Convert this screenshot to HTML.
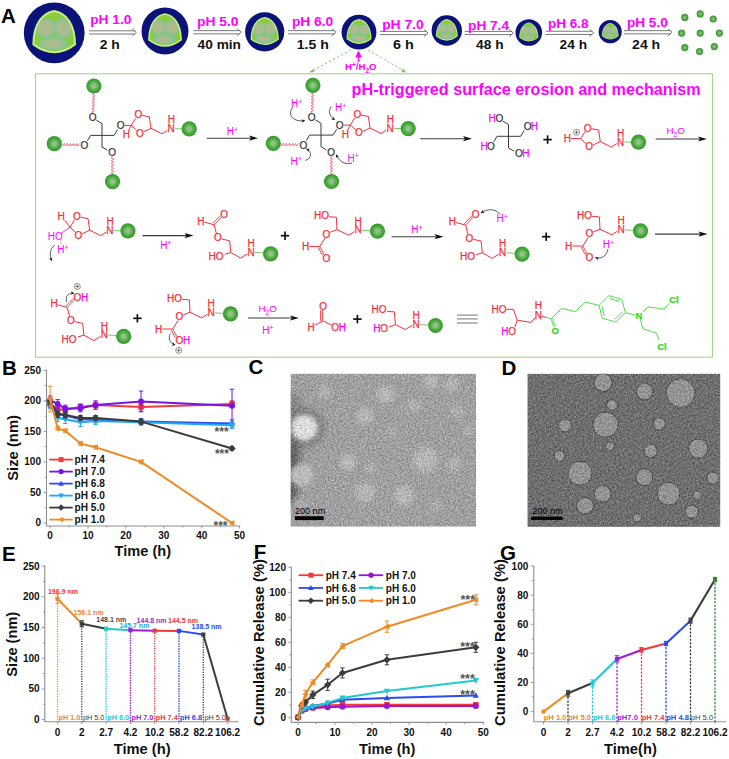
<!DOCTYPE html><html><head><meta charset="utf-8"><style>html,body{margin:0;padding:0;background:#fff;}svg{display:block;}text{font-family:"Liberation Sans", sans-serif;}</style></head><body>
<svg width="729" height="759" viewBox="0 0 729 759" font-family="Liberation Sans, sans-serif">
<defs>
<filter id="blur4" x="-50%" y="-50%" width="200%" height="200%"><feGaussianBlur stdDeviation="4"/></filter>
<filter id="blur2" x="-50%" y="-50%" width="200%" height="200%"><feGaussianBlur stdDeviation="2.2"/></filter>
<filter id="pblur" x="-50%" y="-50%" width="200%" height="200%"><feGaussianBlur stdDeviation="0.028"/></filter>
<filter id="blur05" x="-20%" y="-20%" width="140%" height="140%"><feGaussianBlur stdDeviation="0.45"/></filter>
<filter id="temC" color-interpolation-filters="sRGB" filterUnits="userSpaceOnUse" x="290" y="373" width="187" height="154">
 <feTurbulence type="fractalNoise" baseFrequency="0.6" numOctaves="3" seed="4" result="t"/>
 <feGaussianBlur in="t" stdDeviation="0.6" result="b"/>
 <feColorMatrix in="b" type="matrix" values="1 0 0 0 0  1 0 0 0 0  1 0 0 0 0  0 0 0 0 1" result="g"/>
 <feComposite in="SourceGraphic" in2="g" operator="arithmetic" k1="0" k2="1" k3="0.45" k4="-0.22"/>
</filter>
<filter id="temD" color-interpolation-filters="sRGB" filterUnits="userSpaceOnUse" x="527" y="373" width="194" height="154">
 <feTurbulence type="fractalNoise" baseFrequency="0.6" numOctaves="3" seed="9" result="t"/>
 <feGaussianBlur in="t" stdDeviation="0.6" result="b"/>
 <feColorMatrix in="b" type="matrix" values="1 0 0 0 0  1 0 0 0 0  1 0 0 0 0  0 0 0 0 1" result="g"/>
 <feComposite in="SourceGraphic" in2="g" operator="arithmetic" k1="0" k2="1" k3="0.45" k4="-0.22"/>
</filter>
<radialGradient id="dotg" cx="0.5" cy="0.5" r="0.5"><stop offset="0" stop-color="#9cb494"/><stop offset="0.4" stop-color="#78b068"/><stop offset="0.7" stop-color="#40a436"/><stop offset="1" stop-color="#3a9832"/></radialGradient>
<radialGradient id="ballg" cx="0.5" cy="0.5" r="0.5">
 <stop offset="0" stop-color="#b2b67c"/><stop offset="0.25" stop-color="#8cc28e"/><stop offset="0.55" stop-color="#58b04a"/><stop offset="0.85" stop-color="#38a02e"/><stop offset="1" stop-color="#3a9832"/>
</radialGradient>
<g id="ptc">
 <circle r="1" fill="#0b137a"/>
 <path id="ptshape" d="M0,-0.72 C-0.38,-0.66 -0.68,-0.3 -0.685,0.38 Q0,0.9 0.685,0.38 C0.68,-0.3 0.38,-0.66 0,-0.72Z" fill="#8ccb3e"/>
 <clipPath id="ptclip"><path d="M0,-0.72 C-0.38,-0.66 -0.68,-0.3 -0.685,0.38 Q0,0.9 0.685,0.38 C0.68,-0.3 0.38,-0.66 0,-0.72Z"/></clipPath>
 <g clip-path="url(#ptclip)">
  <g filter="url(#pblur)">
  <circle cx="-0.28" cy="-0.15" r="0.33" fill="#80c59c"/><circle cx="0.29" cy="-0.15" r="0.33" fill="#80c59c"/>
  <ellipse cx="-0.03" cy="0.36" rx="0.48" ry="0.22" fill="#80c59c"/>
  <circle cx="-0.28" cy="-0.15" r="0.26" fill="#adbb8d"/><circle cx="0.29" cy="-0.15" r="0.26" fill="#adbb8d"/>
  <ellipse cx="-0.03" cy="0.36" rx="0.36" ry="0.15" fill="#adbb8d"/>
  </g>
 </g>
 <path d="M0,-0.72 C-0.38,-0.66 -0.68,-0.3 -0.685,0.38 Q0,0.9 0.685,0.38 C0.68,-0.3 0.38,-0.66 0,-0.72Z" fill="none" stroke="#c8f07c" stroke-width="0.065"/>
</g>
</defs>
<defs><marker id="ah" viewBox="0 0 6 6" refX="5" refY="3" markerWidth="4.5" markerHeight="4.5" orient="auto"><path d="M0,0 L6,3 L0,6 L1.5,3Z" fill="#222"/></marker></defs>
<rect width="729" height="759" fill="#fff"/>
<g transform="translate(54.2,32.8) scale(30.4)"><use href="#ptc"/></g>
<g transform="translate(165,31) scale(23.5)"><use href="#ptc"/></g>
<g transform="translate(264.7,31.8) scale(19.6)"><use href="#ptc"/></g>
<g transform="translate(359,32.2) scale(17.4)"><use href="#ptc"/></g>
<g transform="translate(446.8,30.5) scale(15.2)"><use href="#ptc"/></g>
<g transform="translate(528.8,32.5) scale(13.3)"><use href="#ptc"/></g>
<g transform="translate(610.2,31.7) scale(11.6)"><use href="#ptc"/></g>
<g stroke="#6a6a6a" stroke-width="0.9" fill="none"><line x1="89.1" y1="30.799999999999997" x2="134.9" y2="30.799999999999997"/><line x1="89.1" y1="34.0" x2="134.9" y2="34.0"/><polyline points="132.4,28.9 136.4,32.4 132.4,35.9"/></g>
<text x="90.20" y="23.90" font-size="13" font-weight="bold" fill="#ff00ff" text-anchor="start"  textLength="41.2" lengthAdjust="spacingAndGlyphs">pH 1.0</text>
<text x="99.70" y="48.70" font-size="13" font-weight="bold" fill="#111" text-anchor="start"  textLength="20.1" lengthAdjust="spacingAndGlyphs">2 h</text>
<g stroke="#6a6a6a" stroke-width="0.9" fill="none"><line x1="193.3" y1="30.65" x2="239.8" y2="30.65"/><line x1="193.3" y1="33.85" x2="239.8" y2="33.85"/><polyline points="237.3,28.75 241.3,32.25 237.3,35.75"/></g>
<text x="197.00" y="25.60" font-size="13" font-weight="bold" fill="#ff00ff" text-anchor="start"  textLength="41.5" lengthAdjust="spacingAndGlyphs">pH 5.0</text>
<text x="197.60" y="48.70" font-size="13" font-weight="bold" fill="#111" text-anchor="start"  textLength="43.4" lengthAdjust="spacingAndGlyphs">40 min</text>
<g stroke="#6a6a6a" stroke-width="0.9" fill="none"><line x1="288" y1="30.65" x2="334.5" y2="30.65"/><line x1="288" y1="33.85" x2="334.5" y2="33.85"/><polyline points="332,28.75 336,32.25 332,35.75"/></g>
<text x="291.90" y="25.60" font-size="13" font-weight="bold" fill="#ff00ff" text-anchor="start"  textLength="41.3" lengthAdjust="spacingAndGlyphs">pH 6.0</text>
<text x="296.70" y="48.70" font-size="13" font-weight="bold" fill="#111" text-anchor="start"  textLength="32.1" lengthAdjust="spacingAndGlyphs">1.5 h</text>
<g stroke="#6a6a6a" stroke-width="0.9" fill="none"><line x1="380" y1="31.4" x2="426.5" y2="31.4"/><line x1="380" y1="34.6" x2="426.5" y2="34.6"/><polyline points="424,29.5 428,33.0 424,36.5"/></g>
<text x="382.20" y="28.50" font-size="13" font-weight="bold" fill="#ff00ff" text-anchor="start"  textLength="41.4" lengthAdjust="spacingAndGlyphs">pH 7.0</text>
<text x="393.10" y="48.70" font-size="13" font-weight="bold" fill="#111" text-anchor="start"  textLength="20.8" lengthAdjust="spacingAndGlyphs">6 h</text>
<g stroke="#6a6a6a" stroke-width="0.9" fill="none"><line x1="464.7" y1="31.4" x2="511.79999999999995" y2="31.4"/><line x1="464.7" y1="34.6" x2="511.79999999999995" y2="34.6"/><polyline points="509.29999999999995,29.5 513.3,33.0 509.29999999999995,36.5"/></g>
<text x="468.10" y="29.60" font-size="13" font-weight="bold" fill="#ff00ff" text-anchor="start"  textLength="40.9" lengthAdjust="spacingAndGlyphs">pH 7.4</text>
<text x="476.10" y="48.70" font-size="13" font-weight="bold" fill="#111" text-anchor="start"  textLength="27.4" lengthAdjust="spacingAndGlyphs">48 h</text>
<g stroke="#6a6a6a" stroke-width="0.9" fill="none"><line x1="545.6" y1="31.25" x2="592.2" y2="31.25"/><line x1="545.6" y1="34.45" x2="592.2" y2="34.45"/><polyline points="589.7,29.35 593.7,32.85 589.7,36.35"/></g>
<text x="547.90" y="27.70" font-size="13" font-weight="bold" fill="#ff00ff" text-anchor="start"  textLength="40.7" lengthAdjust="spacingAndGlyphs">pH 6.8</text>
<text x="559.60" y="48.70" font-size="13" font-weight="bold" fill="#111" text-anchor="start"  textLength="27.4" lengthAdjust="spacingAndGlyphs">24 h</text>
<g stroke="#6a6a6a" stroke-width="0.9" fill="none"><line x1="624" y1="30.65" x2="670.5" y2="30.65"/><line x1="624" y1="33.85" x2="670.5" y2="33.85"/><polyline points="668,28.75 672,32.25 668,35.75"/></g>
<text x="626.90" y="27.30" font-size="13" font-weight="bold" fill="#ff00ff" text-anchor="start"  textLength="40.9" lengthAdjust="spacingAndGlyphs">pH 5.0</text>
<text x="632.10" y="48.70" font-size="13" font-weight="bold" fill="#111" text-anchor="start"  textLength="28.1" lengthAdjust="spacingAndGlyphs">24 h</text>
<circle cx="684.8" cy="17.4" r="3.6" fill="url(#dotg)"/>
<circle cx="700.2" cy="13.9" r="3.6" fill="url(#dotg)"/>
<circle cx="713.2" cy="19" r="3.6" fill="url(#dotg)"/>
<circle cx="681.6" cy="33.1" r="3.6" fill="url(#dotg)"/>
<circle cx="700.2" cy="33.1" r="3.6" fill="url(#dotg)"/>
<circle cx="719.4" cy="33.1" r="3.6" fill="url(#dotg)"/>
<circle cx="684.8" cy="47.6" r="3.6" fill="url(#dotg)"/>
<circle cx="699.6" cy="51.5" r="3.6" fill="url(#dotg)"/>
<circle cx="714.3" cy="46.6" r="3.6" fill="url(#dotg)"/>
<text x="1.00" y="22.60" font-size="20.5" font-weight="bold" fill="#000" text-anchor="start" >A</text>
<line x1="358.5" y1="62.2" x2="358.5" y2="55.5" stroke="#ff00ff" stroke-width="1.5"/>
<polygon points="355.2,57.2 361.8,57.2 358.5,50.6" fill="#ff00ff"/>
<text x="360.8" y="70.2" font-size="9.6" font-weight="bold" fill="#ff00ff" text-anchor="middle">H<tspan dy="-3.4" font-size="6.5">+</tspan><tspan dy="3.4">/H</tspan><tspan dy="2.4" font-size="6.5">2</tspan><tspan dy="-2.4">O</tspan></text>
<g stroke="#8cc070" stroke-width="0.9" stroke-dasharray="2.5,2" fill="none"><line x1="351" y1="50" x2="312" y2="71"/><line x1="368" y1="50" x2="404" y2="71"/></g>
<polygon points="309,72.5 313.5,68.5 314.5,72" fill="#8cc070"/>
<polygon points="407,72.5 402.5,68.5 401.5,72" fill="#8cc070"/>
<rect x="35.5" y="73.8" width="677" height="283.4" fill="none" stroke="#a6d58e" stroke-width="1.1"/>
<text x="351.60" y="95.40" font-size="16.2" font-weight="bold" fill="#ff00ff" text-anchor="start" >pH-triggered surface erosion and mechanism</text>
<circle cx="93.90" cy="86.00" r="7.6" fill="url(#ballg)"/>
<circle cx="54.30" cy="143.70" r="7.6" fill="url(#ballg)"/>
<circle cx="112.50" cy="181.60" r="7.6" fill="url(#ballg)"/>
<polyline points="93.80,93.60 92.73,94.06 92.73,94.56 93.77,95.12 94.77,95.67 94.69,96.17 93.58,96.63 92.55,97.09 92.64,97.60 93.72,98.15 94.67,98.70 94.50,99.20 93.35,99.65 92.38,100.12 92.55,100.63 93.67,101.19 94.56,101.73 94.30,102.23 93.13,102.68 92.22,103.15 92.47,103.66 93.61,104.22 94.45,104.77 94.11,105.26 92.91,105.71 92.06,106.17 92.39,106.70 93.55,107.26 94.33,107.80 93.91,108.28 92.69,108.73 91.90,109.20 92.32,109.73 93.50,110.29 94.21,110.83 93.70,111.31 92.47,111.76 91.75,112.24 92.25,112.76 93.43,113.32" fill="none" stroke="#f0607a" stroke-width="1.0"/>
<polyline points="62.00,144.60 62.49,145.65 62.99,145.65 63.51,144.60 64.03,143.58 64.53,143.62 65.02,144.70 65.50,145.72 66.01,145.68 66.53,144.61 67.05,143.61 67.55,143.70 68.03,144.79 68.52,145.80 69.02,145.70 69.54,144.62 70.06,143.64 70.57,143.77 71.05,144.89 71.54,145.86 72.04,145.73 72.56,144.63 73.08,143.68 73.58,143.85 74.07,144.98 74.55,145.93 75.06,145.75 75.58,144.63 76.10,143.71 76.60,143.93 77.08,145.08 77.57,146.00 78.08,145.78 78.60,144.64 79.12,143.75 79.62,144.01" fill="none" stroke="#f0607a" stroke-width="1.0"/>
<polyline points="112.30,157.00 111.27,157.51 111.27,158.01 112.32,158.50 113.36,158.99 113.37,159.49 112.33,160.00 111.30,160.51 111.31,161.01 112.35,161.50 113.40,161.99 113.40,162.49 112.37,163.00 111.34,163.51 111.34,164.01 112.39,164.50 113.43,164.99 113.44,165.49 112.40,166.00 111.37,166.51 111.38,167.01 112.43,167.50 113.47,167.99 113.47,168.49 112.44,169.00 111.41,169.51 111.41,170.01 112.46,170.50 113.51,170.99 113.51,171.49 112.47,172.00 111.44,172.51 111.45,173.01 112.50,173.50 113.54,173.99" fill="none" stroke="#f0607a" stroke-width="1.0"/>
<polyline points="96.40,120.20 102.00,123.60 102.00,147.00 107.60,150.30" fill="none" stroke="#3a3a3a" stroke-width="1.0" stroke-linejoin="miter"/>
<polyline points="87.40,140.80 90.50,135.40 114.10,135.40 117.60,129.60" fill="none" stroke="#3a3a3a" stroke-width="1.0" stroke-linejoin="miter"/>
<text x="92.60" y="121.40" font-size="10" font-weight="normal" fill="#3a3a3a" stroke="#3a3a3a" stroke-width="0.25" text-anchor="middle">O</text>
<text x="120.70" y="129.20" font-size="10" font-weight="normal" fill="#3a3a3a" stroke="#3a3a3a" stroke-width="0.25" text-anchor="middle">O</text>
<text x="84.30" y="148.90" font-size="10" font-weight="normal" fill="#3a3a3a" stroke="#3a3a3a" stroke-width="0.25" text-anchor="middle">O</text>
<text x="112.20" y="156.00" font-size="10" font-weight="normal" fill="#3a3a3a" stroke="#3a3a3a" stroke-width="0.25" text-anchor="middle">O</text>
<line x1="124.60" y1="125.50" x2="131.40" y2="125.30" stroke="#f3303a" stroke-width="1.0"/>
<line x1="131.40" y1="125.30" x2="128.60" y2="130.40" stroke="#f3303a" stroke-width="1.0"/>
<text x="126.30" y="138.10" font-size="10" font-weight="normal" fill="#f3303a" stroke="#f3303a" stroke-width="0.25" text-anchor="middle">H</text>
<line x1="142.00" y1="115.40" x2="149.30" y2="116.70" stroke="#f3303a" stroke-width="1.0"/>
<line x1="149.30" y1="116.70" x2="151.00" y2="128.30" stroke="#f3303a" stroke-width="1.0"/>
<line x1="151.00" y1="128.30" x2="143.60" y2="131.80" stroke="#f3303a" stroke-width="1.0"/>
<polyline points="151.00,128.30 162.00,133.80 167.40,130.30" fill="none" stroke="#f3303a" stroke-width="1.0" stroke-linejoin="miter"/>
<text x="138.30" y="118.20" font-size="10" font-weight="normal" fill="#f3303a" stroke="#f3303a" stroke-width="0.25" text-anchor="middle">O</text>
<text x="139.80" y="136.60" font-size="10" font-weight="normal" fill="#f3303a" stroke="#f3303a" stroke-width="0.25" text-anchor="middle">O</text>
<text x="171.20" y="132.20" font-size="10" font-weight="normal" fill="#f3303a" stroke="#f3303a" stroke-width="0.25" text-anchor="middle">N</text>
<text x="171.30" y="123.20" font-size="10" font-weight="normal" fill="#f3303a" stroke="#f3303a" stroke-width="0.25" text-anchor="middle">H</text>
<line x1="175.00" y1="128.70" x2="182.00" y2="128.90" stroke="#6cbf5c" stroke-width="0.9"/>
<circle cx="189.20" cy="128.90" r="7.6" fill="url(#ballg)"/>
<line x1="131.40" y1="125.30" x2="135.60" y2="118.40" stroke="#f3303a" stroke-width="1.0"/>
<line x1="131.40" y1="125.30" x2="136.60" y2="130.20" stroke="#f3303a" stroke-width="1.0"/>
<line x1="206.8" y1="138.2" x2="252.0" y2="138.2" stroke="#3a3a3a" stroke-width="1.1"/>
<polygon points="258.0,138.2 249.0,135.6 251.0,138.2 249.0,140.79999999999998" fill="#111"/>
<text x="232.50" y="134.90" font-size="10" fill="#ff00ff" text-anchor="middle">H<tspan dy="-3.4" font-size="7.00">+</tspan></text>
<circle cx="312.90" cy="85.40" r="7.6" fill="url(#ballg)"/>
<circle cx="273.30" cy="143.40" r="7.6" fill="url(#ballg)"/>
<circle cx="331.50" cy="181.50" r="7.6" fill="url(#ballg)"/>
<polyline points="312.80,93.20 311.72,93.66 311.74,94.17 312.81,94.74 313.79,95.29 313.64,95.80 312.49,96.26 311.51,96.72 311.70,97.24 312.84,97.81 313.71,98.36 313.39,98.86 312.19,99.31 311.32,99.78 311.68,100.31 312.85,100.88 313.61,101.42 313.13,101.91 311.89,102.37 311.16,102.84 311.67,103.38 312.86,103.95 313.48,104.49 312.84,104.97 311.60,105.42 311.01,105.91 311.67,106.45 312.86,107.02 313.33,107.55 312.55,108.03 311.32,108.48 310.89,108.97 311.68,109.52 312.85,110.09 313.15,110.61 312.25,111.08 311.06,111.54 310.79,112.04 311.70,112.59" fill="none" stroke="#f0607a" stroke-width="1.0"/>
<polyline points="281.00,144.40 281.49,145.45 281.99,145.45 282.51,144.40 283.03,143.38 283.53,143.42 284.02,144.50 284.50,145.52 285.01,145.48 285.53,144.41 286.05,143.41 286.55,143.50 287.03,144.59 287.52,145.60 288.02,145.50 288.54,144.42 289.06,143.44 289.57,143.57 290.05,144.69 290.54,145.66 291.04,145.53 291.56,144.43 292.08,143.48 292.58,143.65 293.07,144.78 293.55,145.73 294.06,145.55 294.58,144.43 295.10,143.51 295.60,143.73 296.08,144.88 296.57,145.80 297.08,145.58 297.60,144.44 298.12,143.55 298.62,143.81" fill="none" stroke="#f0607a" stroke-width="1.0"/>
<polyline points="331.30,156.80 330.26,157.32 330.29,157.82 331.36,158.32 332.39,158.81 332.33,159.32 331.25,159.84 330.25,160.35 330.37,160.86 331.49,161.35 332.46,161.85 332.31,162.35 331.19,162.87 330.25,163.39 330.46,163.89 331.61,164.39 332.53,164.88 332.29,165.39 331.14,165.91 330.26,166.43 330.56,166.93 331.73,167.42 332.59,167.92 332.26,168.43 331.09,168.95 330.27,169.46 330.66,169.96 331.85,170.45 332.65,170.95 332.23,171.46 331.04,171.98 330.29,172.50 330.76,173.00 331.97,173.49 332.69,173.99" fill="none" stroke="#f0607a" stroke-width="1.0"/>
<polyline points="315.40,119.90 321.00,123.30 321.00,146.70 326.60,150.00" fill="none" stroke="#3a3a3a" stroke-width="1.0" stroke-linejoin="miter"/>
<polyline points="306.40,140.50 309.50,135.10 333.10,135.10 336.60,129.30" fill="none" stroke="#3a3a3a" stroke-width="1.0" stroke-linejoin="miter"/>
<text x="311.60" y="121.10" font-size="10" font-weight="normal" fill="#3a3a3a" stroke="#3a3a3a" stroke-width="0.25" text-anchor="middle">O</text>
<text x="339.70" y="128.90" font-size="10" font-weight="normal" fill="#3a3a3a" stroke="#3a3a3a" stroke-width="0.25" text-anchor="middle">O</text>
<text x="303.30" y="148.60" font-size="10" font-weight="normal" fill="#3a3a3a" stroke="#3a3a3a" stroke-width="0.25" text-anchor="middle">O</text>
<text x="331.20" y="155.70" font-size="10" font-weight="normal" fill="#3a3a3a" stroke="#3a3a3a" stroke-width="0.25" text-anchor="middle">O</text>
<line x1="343.60" y1="125.20" x2="350.40" y2="125.00" stroke="#f3303a" stroke-width="1.0"/>
<line x1="350.40" y1="125.00" x2="347.60" y2="130.10" stroke="#f3303a" stroke-width="1.0"/>
<text x="345.30" y="137.80" font-size="10" font-weight="normal" fill="#f3303a" stroke="#f3303a" stroke-width="0.25" text-anchor="middle">H</text>
<line x1="361.00" y1="115.10" x2="368.30" y2="116.40" stroke="#f3303a" stroke-width="1.0"/>
<line x1="368.30" y1="116.40" x2="370.00" y2="128.00" stroke="#f3303a" stroke-width="1.0"/>
<line x1="370.00" y1="128.00" x2="362.60" y2="131.50" stroke="#f3303a" stroke-width="1.0"/>
<polyline points="370.00,128.00 381.00,133.50 386.40,130.00" fill="none" stroke="#f3303a" stroke-width="1.0" stroke-linejoin="miter"/>
<text x="357.30" y="117.90" font-size="10" font-weight="normal" fill="#f3303a" stroke="#f3303a" stroke-width="0.25" text-anchor="middle">O</text>
<text x="358.80" y="136.30" font-size="10" font-weight="normal" fill="#f3303a" stroke="#f3303a" stroke-width="0.25" text-anchor="middle">O</text>
<text x="390.20" y="131.90" font-size="10" font-weight="normal" fill="#f3303a" stroke="#f3303a" stroke-width="0.25" text-anchor="middle">N</text>
<text x="390.30" y="122.90" font-size="10" font-weight="normal" fill="#f3303a" stroke="#f3303a" stroke-width="0.25" text-anchor="middle">H</text>
<line x1="394.00" y1="128.40" x2="401.00" y2="128.60" stroke="#6cbf5c" stroke-width="0.9"/>
<circle cx="408.20" cy="128.60" r="7.6" fill="url(#ballg)"/>
<line x1="350.40" y1="125.00" x2="354.60" y2="118.10" stroke="#f3303a" stroke-width="1.0"/>
<line x1="350.40" y1="125.00" x2="355.60" y2="129.90" stroke="#f3303a" stroke-width="1.0"/>
<text x="296.60" y="107.10" font-size="10" fill="#ff00ff" text-anchor="middle">H<tspan dy="-3.4" font-size="7.00">+</tspan></text>
<text x="340.60" y="110.90" font-size="10" fill="#ff00ff" text-anchor="middle">H<tspan dy="-3.4" font-size="7.00">+</tspan></text>
<text x="296.20" y="164.50" font-size="10" fill="#ff00ff" text-anchor="middle">H<tspan dy="-3.4" font-size="7.00">+</tspan></text>
<text x="353.20" y="161.60" font-size="10" fill="#ff00ff" text-anchor="middle">H<tspan dy="-3.4" font-size="7.00">+</tspan></text>
<path d="M293.4,106.8 C287.5,112 290.5,122.5 304.6,120.6" fill="none" stroke="#333" stroke-width="0.8" marker-end="url(#ah)"/>
<path d="M331.5,106.4 C328.0,110.5 329.0,116.0 334.6,119.6" fill="none" stroke="#333" stroke-width="0.8" marker-end="url(#ah)"/>
<path d="M305.3,160.4 C311.8,158.5 312.5,152.0 306.6,149.0" fill="none" stroke="#333" stroke-width="0.8" marker-end="url(#ah)"/>
<path d="M352.2,163.0 C345.5,165.0 339.5,162.0 336.3,154.8" fill="none" stroke="#333" stroke-width="0.8" marker-end="url(#ah)"/>
<line x1="420.4" y1="138.7" x2="466.0" y2="138.7" stroke="#3a3a3a" stroke-width="1.1"/>
<polygon points="472.0,138.7 463.0,136.1 465.0,138.7 463.0,141.29999999999998" fill="#111"/>
<polyline points="502.90,121.10 508.50,124.50 508.50,147.90 514.10,151.20" fill="none" stroke="#3a3a3a" stroke-width="1.0" stroke-linejoin="miter"/>
<polyline points="493.90,141.70 497.00,136.30 520.60,136.30 524.10,130.50" fill="none" stroke="#3a3a3a" stroke-width="1.0" stroke-linejoin="miter"/>
<text x="492.10" y="122.20" font-size="10" font-weight="normal" fill="#ff00ff" stroke="#ff00ff" stroke-width="0.25" text-anchor="middle">H</text>
<text x="499.30" y="122.20" font-size="10" font-weight="normal" fill="#3a3a3a" stroke="#3a3a3a" stroke-width="0.25" text-anchor="middle">O</text>
<text x="527.60" y="130.20" font-size="10" font-weight="normal" fill="#3a3a3a" stroke="#3a3a3a" stroke-width="0.25" text-anchor="middle">O</text>
<text x="534.40" y="130.20" font-size="10" font-weight="normal" fill="#ff00ff" stroke="#ff00ff" stroke-width="0.25" text-anchor="middle">H</text>
<text x="484.20" y="150.00" font-size="10" font-weight="normal" fill="#ff00ff" stroke="#ff00ff" stroke-width="0.25" text-anchor="middle">H</text>
<text x="491.00" y="150.00" font-size="10" font-weight="normal" fill="#3a3a3a" stroke="#3a3a3a" stroke-width="0.25" text-anchor="middle">O</text>
<text x="518.90" y="157.20" font-size="10" font-weight="normal" fill="#3a3a3a" stroke="#3a3a3a" stroke-width="0.25" text-anchor="middle">O</text>
<text x="525.90" y="157.20" font-size="10" font-weight="normal" fill="#ff00ff" stroke="#ff00ff" stroke-width="0.25" text-anchor="middle">H</text>
<g stroke="#111" stroke-width="1.7"><line x1="543.4" y1="139.6" x2="551.8000000000001" y2="139.6"/><line x1="547.6" y1="135.4" x2="547.6" y2="143.79999999999998"/></g>
<text x="567.40" y="142.00" font-size="10" font-weight="normal" fill="#f3303a" stroke="#f3303a" stroke-width="0.25" text-anchor="middle">H</text>
<line x1="570.80" y1="138.60" x2="580.70" y2="138.60" stroke="#f3303a" stroke-width="1.0"/>
<circle cx="576.6" cy="132.3" r="3.0" fill="none" stroke="#444" stroke-width="0.6"/><line x1="574.8000000000001" y1="132.3" x2="578.4" y2="132.3" stroke="#444" stroke-width="0.7"/><line x1="576.6" y1="130.5" x2="576.6" y2="134.10000000000002" stroke="#444" stroke-width="0.7"/>
<line x1="591.30" y1="128.70" x2="598.60" y2="130.00" stroke="#f3303a" stroke-width="1.0"/>
<line x1="598.60" y1="130.00" x2="600.30" y2="141.60" stroke="#f3303a" stroke-width="1.0"/>
<line x1="600.30" y1="141.60" x2="592.90" y2="145.10" stroke="#f3303a" stroke-width="1.0"/>
<polyline points="600.30,141.60 611.30,147.10 616.70,143.60" fill="none" stroke="#f3303a" stroke-width="1.0" stroke-linejoin="miter"/>
<text x="587.60" y="131.50" font-size="10" font-weight="normal" fill="#f3303a" stroke="#f3303a" stroke-width="0.25" text-anchor="middle">O</text>
<text x="589.10" y="149.90" font-size="10" font-weight="normal" fill="#f3303a" stroke="#f3303a" stroke-width="0.25" text-anchor="middle">O</text>
<text x="620.50" y="145.50" font-size="10" font-weight="normal" fill="#f3303a" stroke="#f3303a" stroke-width="0.25" text-anchor="middle">N</text>
<text x="620.60" y="136.50" font-size="10" font-weight="normal" fill="#f3303a" stroke="#f3303a" stroke-width="0.25" text-anchor="middle">H</text>
<line x1="624.30" y1="142.00" x2="631.30" y2="142.20" stroke="#6cbf5c" stroke-width="0.9"/>
<circle cx="638.50" cy="142.20" r="7.6" fill="url(#ballg)"/>
<line x1="580.70" y1="138.60" x2="584.90" y2="131.70" stroke="#f3303a" stroke-width="1.0"/>
<line x1="580.70" y1="138.60" x2="585.90" y2="143.50" stroke="#f3303a" stroke-width="1.0"/>
<line x1="655.6" y1="139.0" x2="701.0" y2="139.0" stroke="#3a3a3a" stroke-width="1.1"/>
<polygon points="707.0,139.0 698.0,136.4 700.0,139.0 698.0,141.6" fill="#111"/>
<text x="675.7" y="134.2" font-size="9.8" fill="#ff00ff" text-anchor="middle">H<tspan dy="2.4" font-size="6.6">2</tspan><tspan dy="-2.4">O</tspan></text>
<line x1="80.70" y1="217.30" x2="88.00" y2="218.60" stroke="#f3303a" stroke-width="1.0"/>
<line x1="88.00" y1="218.60" x2="89.70" y2="230.20" stroke="#f3303a" stroke-width="1.0"/>
<line x1="89.70" y1="230.20" x2="82.30" y2="233.70" stroke="#f3303a" stroke-width="1.0"/>
<polyline points="89.70,230.20 100.70,235.70 106.10,232.20" fill="none" stroke="#f3303a" stroke-width="1.0" stroke-linejoin="miter"/>
<text x="77.00" y="220.10" font-size="10" font-weight="normal" fill="#f3303a" stroke="#f3303a" stroke-width="0.25" text-anchor="middle">O</text>
<text x="78.50" y="238.50" font-size="10" font-weight="normal" fill="#f3303a" stroke="#f3303a" stroke-width="0.25" text-anchor="middle">O</text>
<text x="109.90" y="234.10" font-size="10" font-weight="normal" fill="#f3303a" stroke="#f3303a" stroke-width="0.25" text-anchor="middle">N</text>
<text x="110.00" y="225.10" font-size="10" font-weight="normal" fill="#f3303a" stroke="#f3303a" stroke-width="0.25" text-anchor="middle">H</text>
<line x1="113.70" y1="230.60" x2="120.70" y2="230.80" stroke="#6cbf5c" stroke-width="0.9"/>
<circle cx="127.90" cy="230.80" r="7.6" fill="url(#ballg)"/>
<line x1="70.10" y1="227.20" x2="74.20" y2="220.30" stroke="#f3303a" stroke-width="1.0"/>
<line x1="70.10" y1="227.20" x2="75.30" y2="232.10" stroke="#f3303a" stroke-width="1.0"/>
<line x1="70.10" y1="227.20" x2="64.60" y2="220.20" stroke="#f3303a" stroke-width="1.0"/>
<text x="61.20" y="220.10" font-size="10" font-weight="normal" fill="#f3303a" stroke="#f3303a" stroke-width="0.25" text-anchor="middle">H</text>
<line x1="70.10" y1="227.20" x2="60.50" y2="233.80" stroke="#e040e0" stroke-width="1.0"/>
<text x="55.3" y="239.9" font-size="10" fill="#ff00ff" text-anchor="middle">HO</text>
<line x1="60.6" y1="240.8" x2="61.4" y2="244.5" stroke="#ff00ff" stroke-width="0.8" stroke-dasharray="1,1"/>
<text x="63.00" y="253.20" font-size="10" fill="#ff00ff" text-anchor="middle">H<tspan dy="-3.4" font-size="7.00">+</tspan></text>
<path d="M54.8,245.2 C49.5,249 49.5,255 51.6,260.6" fill="none" stroke="#333" stroke-width="0.8" marker-end="url(#ah)"/>
<line x1="142.5" y1="235.6" x2="187.5" y2="235.6" stroke="#3a3a3a" stroke-width="1.1"/>
<polygon points="193.5,235.6 184.5,233.0 186.5,235.6 184.5,238.2" fill="#111"/>
<text x="165.80" y="248.80" font-size="10" fill="#ff00ff" text-anchor="middle">H<tspan dy="-3.4" font-size="7.00">+</tspan></text>
<text x="200.90" y="224.60" font-size="10" font-weight="normal" fill="#f3303a" stroke="#f3303a" stroke-width="0.25" text-anchor="middle">H</text>
<line x1="204.60" y1="222.20" x2="214.10" y2="224.80" stroke="#f3303a" stroke-width="1.0"/>
<line x1="214.10" y1="224.80" x2="221.60" y2="217.00" stroke="#f3303a" stroke-width="0.9"/>
<line x1="212.73" y1="223.48" x2="220.23" y2="215.68" stroke="#f3303a" stroke-width="0.9"/>
<text x="224.20" y="218.00" font-size="10" font-weight="normal" fill="#f3303a" stroke="#f3303a" stroke-width="0.25" text-anchor="middle">O</text>
<line x1="214.10" y1="224.80" x2="216.40" y2="233.60" stroke="#f3303a" stroke-width="1.0"/>
<text x="217.80" y="241.30" font-size="10" font-weight="normal" fill="#f3303a" stroke="#f3303a" stroke-width="0.25" text-anchor="middle">O</text>
<polyline points="221.60,239.00 229.60,240.80 230.80,252.50 224.80,254.40" fill="none" stroke="#f3303a" stroke-width="1.0" stroke-linejoin="miter"/>
<text x="216.00" y="260.00" font-size="10" font-weight="normal" fill="#f3303a" stroke="#f3303a" stroke-width="0.25" text-anchor="middle">HO</text>
<polyline points="230.80,252.50 240.70,258.10 247.40,253.80" fill="none" stroke="#f3303a" stroke-width="1.0" stroke-linejoin="miter"/>
<text x="251.20" y="255.60" font-size="10" font-weight="normal" fill="#f3303a" stroke="#f3303a" stroke-width="0.25" text-anchor="middle">N</text>
<text x="251.20" y="247.00" font-size="10" font-weight="normal" fill="#f3303a" stroke="#f3303a" stroke-width="0.25" text-anchor="middle">H</text>
<line x1="255.00" y1="252.50" x2="263.40" y2="252.90" stroke="#6cbf5c" stroke-width="0.9"/>
<circle cx="270.60" cy="253.80" r="7.6" fill="url(#ballg)"/>
<g stroke="#111" stroke-width="1.7"><line x1="280.8" y1="235.7" x2="289.2" y2="235.7"/><line x1="285.0" y1="231.5" x2="285.0" y2="239.89999999999998"/></g>
<text x="321.60" y="219.10" font-size="10" font-weight="normal" fill="#f3303a" stroke="#f3303a" stroke-width="0.25" text-anchor="middle">HO</text>
<polyline points="329.00,216.70 336.40,217.30 337.00,229.70 330.40,232.20" fill="none" stroke="#f3303a" stroke-width="1.0" stroke-linejoin="miter"/>
<text x="326.50" y="237.60" font-size="10" font-weight="normal" fill="#f3303a" stroke="#f3303a" stroke-width="0.25" text-anchor="middle">O</text>
<line x1="325.00" y1="238.00" x2="319.80" y2="246.40" stroke="#f3303a" stroke-width="1.0"/>
<text x="305.60" y="250.00" font-size="10" font-weight="normal" fill="#f3303a" stroke="#f3303a" stroke-width="0.25" text-anchor="middle">H</text>
<line x1="309.40" y1="246.40" x2="319.80" y2="246.40" stroke="#f3303a" stroke-width="1.0"/>
<line x1="319.80" y1="246.40" x2="324.00" y2="254.20" stroke="#f3303a" stroke-width="0.9"/>
<line x1="318.13" y1="247.30" x2="322.33" y2="255.10" stroke="#f3303a" stroke-width="0.9"/>
<text x="326.50" y="261.70" font-size="10" font-weight="normal" fill="#f3303a" stroke="#f3303a" stroke-width="0.25" text-anchor="middle">O</text>
<polyline points="337.00,229.70 348.80,235.20 354.30,231.60" fill="none" stroke="#f3303a" stroke-width="1.0" stroke-linejoin="miter"/>
<text x="358.00" y="233.30" font-size="10" font-weight="normal" fill="#f3303a" stroke="#f3303a" stroke-width="0.25" text-anchor="middle">N</text>
<text x="358.00" y="224.80" font-size="10" font-weight="normal" fill="#f3303a" stroke="#f3303a" stroke-width="0.25" text-anchor="middle">H</text>
<line x1="361.70" y1="230.30" x2="370.00" y2="230.70" stroke="#6cbf5c" stroke-width="0.9"/>
<circle cx="377.50" cy="231.20" r="7.6" fill="url(#ballg)"/>
<line x1="391.6" y1="236.7" x2="437.5" y2="236.7" stroke="#3a3a3a" stroke-width="1.1"/>
<polygon points="443.5,236.7 434.5,234.1 436.5,236.7 434.5,239.29999999999998" fill="#111"/>
<text x="417.00" y="232.90" font-size="10" fill="#ff00ff" text-anchor="middle">H<tspan dy="-3.4" font-size="7.00">+</tspan></text>
<text x="452.40" y="224.90" font-size="10" font-weight="normal" fill="#f3303a" stroke="#f3303a" stroke-width="0.25" text-anchor="middle">H</text>
<line x1="456.10" y1="222.50" x2="465.60" y2="225.10" stroke="#f3303a" stroke-width="1.0"/>
<line x1="465.60" y1="225.10" x2="473.10" y2="217.30" stroke="#f3303a" stroke-width="0.9"/>
<line x1="464.23" y1="223.78" x2="471.73" y2="215.98" stroke="#f3303a" stroke-width="0.9"/>
<text x="475.70" y="218.30" font-size="10" font-weight="normal" fill="#f3303a" stroke="#f3303a" stroke-width="0.25" text-anchor="middle">O</text>
<line x1="465.60" y1="225.10" x2="467.90" y2="233.90" stroke="#f3303a" stroke-width="1.0"/>
<text x="469.30" y="241.60" font-size="10" font-weight="normal" fill="#f3303a" stroke="#f3303a" stroke-width="0.25" text-anchor="middle">O</text>
<polyline points="473.10,239.30 481.10,241.10 482.30,252.80 476.30,254.70" fill="none" stroke="#f3303a" stroke-width="1.0" stroke-linejoin="miter"/>
<text x="467.50" y="260.30" font-size="10" font-weight="normal" fill="#f3303a" stroke="#f3303a" stroke-width="0.25" text-anchor="middle">HO</text>
<polyline points="482.30,252.80 492.20,258.40 498.90,254.10" fill="none" stroke="#f3303a" stroke-width="1.0" stroke-linejoin="miter"/>
<text x="502.70" y="255.90" font-size="10" font-weight="normal" fill="#f3303a" stroke="#f3303a" stroke-width="0.25" text-anchor="middle">N</text>
<text x="502.70" y="247.30" font-size="10" font-weight="normal" fill="#f3303a" stroke="#f3303a" stroke-width="0.25" text-anchor="middle">H</text>
<line x1="506.50" y1="252.80" x2="514.90" y2="253.20" stroke="#6cbf5c" stroke-width="0.9"/>
<circle cx="522.10" cy="254.10" r="7.6" fill="url(#ballg)"/>
<text x="502.20" y="222.20" font-size="10" fill="#ff00ff" text-anchor="middle">H<tspan dy="-3.4" font-size="7.00">+</tspan></text>
<path d="M500.2,214.5 C496,208.5 487,208.5 481.3,212.8" fill="none" stroke="#333" stroke-width="0.8" marker-end="url(#ah)"/>
<g stroke="#111" stroke-width="1.7"><line x1="542.0" y1="236.7" x2="550.4000000000001" y2="236.7"/><line x1="546.2" y1="232.5" x2="546.2" y2="240.89999999999998"/></g>
<text x="584.60" y="218.70" font-size="10" font-weight="normal" fill="#f3303a" stroke="#f3303a" stroke-width="0.25" text-anchor="middle">HO</text>
<polyline points="592.00,216.30 599.40,216.90 600.00,229.30 593.40,231.80" fill="none" stroke="#f3303a" stroke-width="1.0" stroke-linejoin="miter"/>
<text x="589.50" y="237.20" font-size="10" font-weight="normal" fill="#f3303a" stroke="#f3303a" stroke-width="0.25" text-anchor="middle">O</text>
<line x1="588.00" y1="237.60" x2="582.80" y2="246.00" stroke="#f3303a" stroke-width="1.0"/>
<text x="568.60" y="249.60" font-size="10" font-weight="normal" fill="#f3303a" stroke="#f3303a" stroke-width="0.25" text-anchor="middle">H</text>
<line x1="572.40" y1="246.00" x2="582.80" y2="246.00" stroke="#f3303a" stroke-width="1.0"/>
<line x1="582.80" y1="246.00" x2="587.00" y2="253.80" stroke="#f3303a" stroke-width="0.9"/>
<line x1="581.13" y1="246.90" x2="585.33" y2="254.70" stroke="#f3303a" stroke-width="0.9"/>
<text x="589.50" y="261.30" font-size="10" font-weight="normal" fill="#f3303a" stroke="#f3303a" stroke-width="0.25" text-anchor="middle">O</text>
<polyline points="600.00,229.30 611.80,234.80 617.30,231.20" fill="none" stroke="#f3303a" stroke-width="1.0" stroke-linejoin="miter"/>
<text x="621.00" y="232.90" font-size="10" font-weight="normal" fill="#f3303a" stroke="#f3303a" stroke-width="0.25" text-anchor="middle">N</text>
<text x="621.00" y="224.40" font-size="10" font-weight="normal" fill="#f3303a" stroke="#f3303a" stroke-width="0.25" text-anchor="middle">H</text>
<line x1="624.70" y1="229.90" x2="633.00" y2="230.30" stroke="#6cbf5c" stroke-width="0.9"/>
<circle cx="640.50" cy="230.80" r="7.6" fill="url(#ballg)"/>
<text x="608.40" y="248.20" font-size="10" fill="#ff00ff" text-anchor="middle">H<tspan dy="-3.4" font-size="7.00">+</tspan></text>
<path d="M608.0,249.0 C607,256 601,259.5 595.6,257.6" fill="none" stroke="#333" stroke-width="0.8" marker-end="url(#ah)"/>
<line x1="655.1" y1="234.1" x2="701.5" y2="234.1" stroke="#3a3a3a" stroke-width="1.1"/>
<polygon points="707.5,234.1 698.5,231.5 700.5,234.1 698.5,236.7" fill="#111"/>
<text x="54.00" y="307.20" font-size="10" font-weight="normal" fill="#f3303a" stroke="#f3303a" stroke-width="0.25" text-anchor="middle">H</text>
<line x1="57.70" y1="304.80" x2="67.20" y2="307.40" stroke="#f3303a" stroke-width="1.0"/>
<line x1="67.20" y1="307.40" x2="74.70" y2="299.60" stroke="#f3303a" stroke-width="0.9"/>
<line x1="65.83" y1="306.08" x2="73.33" y2="298.28" stroke="#f3303a" stroke-width="0.9"/>
<text x="77.30" y="300.60" font-size="10" font-weight="normal" fill="#f3303a" stroke="#f3303a" stroke-width="0.25" text-anchor="middle">O</text>
<text x="84.50" y="300.60" font-size="10" font-weight="normal" fill="#ff00ff" stroke="#ff00ff" stroke-width="0.25" text-anchor="middle">H</text>
<line x1="67.20" y1="307.40" x2="69.50" y2="316.20" stroke="#f3303a" stroke-width="1.0"/>
<text x="70.90" y="323.90" font-size="10" font-weight="normal" fill="#f3303a" stroke="#f3303a" stroke-width="0.25" text-anchor="middle">O</text>
<polyline points="74.70,321.60 82.70,323.40 83.90,335.10 77.90,337.00" fill="none" stroke="#f3303a" stroke-width="1.0" stroke-linejoin="miter"/>
<text x="69.10" y="342.60" font-size="10" font-weight="normal" fill="#f3303a" stroke="#f3303a" stroke-width="0.25" text-anchor="middle">HO</text>
<polyline points="83.90,335.10 93.80,340.70 100.50,336.40" fill="none" stroke="#f3303a" stroke-width="1.0" stroke-linejoin="miter"/>
<text x="104.30" y="338.20" font-size="10" font-weight="normal" fill="#f3303a" stroke="#f3303a" stroke-width="0.25" text-anchor="middle">N</text>
<text x="104.30" y="329.60" font-size="10" font-weight="normal" fill="#f3303a" stroke="#f3303a" stroke-width="0.25" text-anchor="middle">H</text>
<line x1="108.10" y1="335.10" x2="116.50" y2="335.50" stroke="#6cbf5c" stroke-width="0.9"/>
<circle cx="123.70" cy="336.40" r="7.6" fill="url(#ballg)"/>
<circle cx="77.3" cy="286.5" r="3.0" fill="none" stroke="#444" stroke-width="0.6"/><line x1="75.5" y1="286.5" x2="79.1" y2="286.5" stroke="#444" stroke-width="0.7"/><line x1="77.3" y1="284.7" x2="77.3" y2="288.3" stroke="#444" stroke-width="0.7"/>
<path d="M66.6,302.0 C65.0,296.5 68.5,292.5 73.8,293.4" fill="none" stroke="#333" stroke-width="0.8" marker-end="url(#ah)"/>
<g stroke="#111" stroke-width="1.7"><line x1="133.20000000000002" y1="318.3" x2="141.6" y2="318.3"/><line x1="137.4" y1="314.1" x2="137.4" y2="322.5"/></g>
<text x="174.60" y="301.70" font-size="10" font-weight="normal" fill="#f3303a" stroke="#f3303a" stroke-width="0.25" text-anchor="middle">HO</text>
<polyline points="182.00,299.30 189.40,299.90 190.00,312.30 183.40,314.80" fill="none" stroke="#f3303a" stroke-width="1.0" stroke-linejoin="miter"/>
<text x="179.50" y="320.20" font-size="10" font-weight="normal" fill="#f3303a" stroke="#f3303a" stroke-width="0.25" text-anchor="middle">O</text>
<line x1="178.00" y1="320.60" x2="172.80" y2="329.00" stroke="#f3303a" stroke-width="1.0"/>
<text x="158.60" y="332.60" font-size="10" font-weight="normal" fill="#f3303a" stroke="#f3303a" stroke-width="0.25" text-anchor="middle">H</text>
<line x1="162.40" y1="329.00" x2="172.80" y2="329.00" stroke="#f3303a" stroke-width="1.0"/>
<line x1="172.80" y1="329.00" x2="177.00" y2="336.80" stroke="#f3303a" stroke-width="0.9"/>
<line x1="171.13" y1="329.90" x2="175.33" y2="337.70" stroke="#f3303a" stroke-width="0.9"/>
<text x="179.50" y="344.30" font-size="10" font-weight="normal" fill="#f3303a" stroke="#f3303a" stroke-width="0.25" text-anchor="middle">O</text>
<text x="186.70" y="344.30" font-size="10" font-weight="normal" fill="#ff00ff" stroke="#ff00ff" stroke-width="0.25" text-anchor="middle">H</text>
<polyline points="190.00,312.30 201.80,317.80 207.30,314.20" fill="none" stroke="#f3303a" stroke-width="1.0" stroke-linejoin="miter"/>
<text x="211.00" y="315.90" font-size="10" font-weight="normal" fill="#f3303a" stroke="#f3303a" stroke-width="0.25" text-anchor="middle">N</text>
<text x="211.00" y="307.40" font-size="10" font-weight="normal" fill="#f3303a" stroke="#f3303a" stroke-width="0.25" text-anchor="middle">H</text>
<line x1="214.70" y1="312.90" x2="223.00" y2="313.30" stroke="#6cbf5c" stroke-width="0.9"/>
<circle cx="230.50" cy="313.80" r="7.6" fill="url(#ballg)"/>
<circle cx="178.7" cy="350.3" r="3.0" fill="none" stroke="#444" stroke-width="0.6"/><line x1="176.89999999999998" y1="350.3" x2="180.5" y2="350.3" stroke="#444" stroke-width="0.7"/><line x1="178.7" y1="348.5" x2="178.7" y2="352.1" stroke="#444" stroke-width="0.7"/>
<path d="M170.2,333.6 C167.8,338.5 170.0,343.5 175.0,344.8" fill="none" stroke="#333" stroke-width="0.8" marker-end="url(#ah)"/>
<line x1="248.0" y1="318.0" x2="293.0" y2="318.0" stroke="#3a3a3a" stroke-width="1.1"/>
<polygon points="299.0,318.0 290.0,315.4 292.0,318.0 290.0,320.6" fill="#111"/>
<text x="267.7" y="312.2" font-size="9.8" fill="#ff00ff" text-anchor="middle">H<tspan dy="2.4" font-size="6.6">2</tspan><tspan dy="-2.4">O</tspan></text>
<text x="268.00" y="333.80" font-size="10" fill="#ff00ff" text-anchor="middle">H<tspan dy="-3.4" font-size="7.00">+</tspan></text>
<text x="323.20" y="309.70" font-size="10" font-weight="normal" fill="#f3303a" stroke="#f3303a" stroke-width="0.25" text-anchor="middle">O</text>
<line x1="322.40" y1="310.20" x2="322.40" y2="320.90" stroke="#f3303a" stroke-width="0.9"/>
<line x1="320.60" y1="310.20" x2="320.60" y2="320.90" stroke="#f3303a" stroke-width="0.9"/>
<line x1="323.20" y1="320.90" x2="315.20" y2="325.00" stroke="#f3303a" stroke-width="1.0"/>
<text x="311.10" y="330.50" font-size="10" font-weight="normal" fill="#f3303a" stroke="#f3303a" stroke-width="0.25" text-anchor="middle">H</text>
<line x1="323.20" y1="320.90" x2="331.00" y2="325.00" stroke="#f3303a" stroke-width="1.0"/>
<text x="335.20" y="330.70" font-size="10" font-weight="normal" fill="#f3303a" stroke="#f3303a" stroke-width="0.25" text-anchor="middle">O</text>
<text x="342.40" y="330.70" font-size="10" font-weight="normal" fill="#ff00ff" stroke="#ff00ff" stroke-width="0.25" text-anchor="middle">H</text>
<g stroke="#111" stroke-width="1.7"><line x1="353.2" y1="319.1" x2="361.59999999999997" y2="319.1"/><line x1="357.4" y1="314.90000000000003" x2="357.4" y2="323.3"/></g>
<text x="379.00" y="313.40" font-size="10" font-weight="normal" fill="#f3303a" stroke="#f3303a" stroke-width="0.25" text-anchor="middle">HO</text>
<polyline points="387.20,311.50 394.30,311.80 395.50,324.60 389.20,327.00" fill="none" stroke="#f3303a" stroke-width="1.0" stroke-linejoin="miter"/>
<text x="376.90" y="332.30" font-size="10" font-weight="normal" fill="#ff00ff" stroke="#ff00ff" stroke-width="0.25" text-anchor="middle">H</text>
<text x="384.20" y="332.30" font-size="10" font-weight="normal" fill="#f3303a" stroke="#f3303a" stroke-width="0.25" text-anchor="middle">O</text>
<polyline points="395.50,324.60 405.30,329.60 411.90,325.50" fill="none" stroke="#f3303a" stroke-width="1.0" stroke-linejoin="miter"/>
<text x="416.00" y="327.90" font-size="10" font-weight="normal" fill="#f3303a" stroke="#f3303a" stroke-width="0.25" text-anchor="middle">N</text>
<text x="416.00" y="319.30" font-size="10" font-weight="normal" fill="#f3303a" stroke="#f3303a" stroke-width="0.25" text-anchor="middle">H</text>
<line x1="420.10" y1="324.60" x2="428.40" y2="325.10" stroke="#6cbf5c" stroke-width="0.9"/>
<circle cx="435.50" cy="325.50" r="7.4" fill="url(#ballg)"/>
<g stroke="#808080" stroke-width="1.1"><line x1="456.9" y1="315.1" x2="477.8" y2="315.1"/><line x1="456.9" y1="318.9" x2="477.8" y2="318.9"/><line x1="456.9" y1="323.0" x2="477.8" y2="323.0"/></g>
<text x="499.10" y="313.20" font-size="10" font-weight="normal" fill="#f3303a" stroke="#f3303a" stroke-width="0.25" text-anchor="middle">HO</text>
<polyline points="506.60,309.30 513.40,309.30 517.20,320.20 514.90,327.00" fill="none" stroke="#f3303a" stroke-width="1.0" stroke-linejoin="miter"/>
<text x="504.80" y="335.10" font-size="10" font-weight="normal" fill="#ff00ff" stroke="#ff00ff" stroke-width="0.25" text-anchor="middle">H</text>
<text x="512.10" y="335.10" font-size="10" font-weight="normal" fill="#f3303a" stroke="#f3303a" stroke-width="0.25" text-anchor="middle">O</text>
<polyline points="517.20,320.20 530.70,322.40 535.30,317.90" fill="none" stroke="#f3303a" stroke-width="1.0" stroke-linejoin="miter"/>
<text x="538.30" y="318.50" font-size="10" font-weight="normal" fill="#f3303a" stroke="#f3303a" stroke-width="0.25" text-anchor="middle">N</text>
<text x="538.30" y="309.00" font-size="10" font-weight="normal" fill="#f3303a" stroke="#f3303a" stroke-width="0.25" text-anchor="middle">H</text>
<line x1="542.10" y1="316.40" x2="546.60" y2="317.60" stroke="#f3303a" stroke-width="1.0"/>
<line x1="546.60" y1="317.60" x2="551.10" y2="318.70" stroke="#50dc50" stroke-width="1.0"/>
<line x1="551.10" y1="318.70" x2="553.60" y2="327.20" stroke="#50dc50" stroke-width="0.9"/>
<line x1="552.63" y1="318.25" x2="555.13" y2="326.75" stroke="#50dc50" stroke-width="0.9"/>
<text x="555.20" y="334.42" font-size="9.5" font-weight="bold" fill="#2fd82f" stroke="#2fd82f" stroke-width="0.25" text-anchor="middle">O</text>
<polyline points="551.10,318.70 561.70,308.40 575.30,311.60 585.10,302.10 599.10,305.40" fill="none" stroke="#50dc50" stroke-width="1.0" stroke-linejoin="miter"/>
<polyline points="599.10,305.40 608.90,295.60 621.70,299.30 625.50,312.90 615.70,322.00 602.10,318.20 599.10,305.40" fill="none" stroke="#50dc50" stroke-width="1.0" stroke-linejoin="miter"/>
<line x1="609.62" y1="298.53" x2="619.60" y2="301.41" stroke="#50dc50" stroke-width="1.0"/>
<line x1="622.57" y1="312.02" x2="614.92" y2="319.12" stroke="#50dc50" stroke-width="1.0"/>
<line x1="604.31" y1="316.15" x2="601.97" y2="306.17" stroke="#50dc50" stroke-width="1.0"/>
<line x1="625.50" y1="312.90" x2="635.60" y2="315.00" stroke="#50dc50" stroke-width="1.0"/>
<text x="639.00" y="318.62" font-size="9.5" font-weight="bold" fill="#2fd82f" stroke="#2fd82f" stroke-width="0.25" text-anchor="middle">N</text>
<polyline points="642.80,312.00 648.10,306.90 663.90,309.10 669.60,303.20" fill="none" stroke="#50dc50" stroke-width="1.0" stroke-linejoin="miter"/>
<text x="674.00" y="303.02" font-size="9.5" font-weight="bold" fill="#2fd82f" stroke="#2fd82f" stroke-width="0.25" text-anchor="middle">Cl</text>
<polyline points="640.40,319.20 642.80,328.80 656.40,333.00 659.00,340.20" fill="none" stroke="#50dc50" stroke-width="1.0" stroke-linejoin="miter"/>
<text x="662.00" y="349.52" font-size="9.5" font-weight="bold" fill="#2fd82f" stroke="#2fd82f" stroke-width="0.25" text-anchor="middle">Cl</text>
<g stroke="#8f8f8f" stroke-width="1.1" fill="none"><polyline points="46.5,369.8 46.5,526.0 240.1,526.0"/></g>
<g stroke="#8f8f8f" stroke-width="0.9">
<line x1="43.5" y1="523.00" x2="46.5" y2="523.00"/>
<line x1="44.7" y1="507.73" x2="46.5" y2="507.73"/>
<line x1="43.5" y1="492.46" x2="46.5" y2="492.46"/>
<line x1="44.7" y1="477.19" x2="46.5" y2="477.19"/>
<line x1="43.5" y1="461.92" x2="46.5" y2="461.92"/>
<line x1="44.7" y1="446.65" x2="46.5" y2="446.65"/>
<line x1="43.5" y1="431.38" x2="46.5" y2="431.38"/>
<line x1="44.7" y1="416.11" x2="46.5" y2="416.11"/>
<line x1="43.5" y1="400.84" x2="46.5" y2="400.84"/>
<line x1="44.7" y1="385.57" x2="46.5" y2="385.57"/>
<line x1="43.5" y1="370.30" x2="46.5" y2="370.30"/>
<line x1="50.10" y1="526.0" x2="50.10" y2="528.5"/>
<line x1="69.05" y1="526.0" x2="69.05" y2="527.5"/>
<line x1="88.00" y1="526.0" x2="88.00" y2="528.5"/>
<line x1="106.95" y1="526.0" x2="106.95" y2="527.5"/>
<line x1="125.90" y1="526.0" x2="125.90" y2="528.5"/>
<line x1="144.85" y1="526.0" x2="144.85" y2="527.5"/>
<line x1="163.80" y1="526.0" x2="163.80" y2="528.5"/>
<line x1="182.75" y1="526.0" x2="182.75" y2="527.5"/>
<line x1="201.70" y1="526.0" x2="201.70" y2="528.5"/>
<line x1="220.65" y1="526.0" x2="220.65" y2="527.5"/>
<line x1="239.60" y1="526.0" x2="239.60" y2="528.5"/>
</g>
<text x="41.00" y="526.40" font-size="10" font-weight="bold" fill="#111" text-anchor="end" >0</text>
<text x="41.00" y="495.86" font-size="10" font-weight="bold" fill="#111" text-anchor="end" >50</text>
<text x="41.00" y="465.32" font-size="10" font-weight="bold" fill="#111" text-anchor="end" >100</text>
<text x="41.00" y="434.78" font-size="10" font-weight="bold" fill="#111" text-anchor="end" >150</text>
<text x="41.00" y="404.24" font-size="10" font-weight="bold" fill="#111" text-anchor="end" >200</text>
<text x="41.00" y="373.70" font-size="10" font-weight="bold" fill="#111" text-anchor="end" >250</text>
<text x="50.10" y="538.60" font-size="10" font-weight="bold" fill="#111" text-anchor="middle" >0</text>
<text x="88.00" y="538.60" font-size="10" font-weight="bold" fill="#111" text-anchor="middle" >10</text>
<text x="125.90" y="538.60" font-size="10" font-weight="bold" fill="#111" text-anchor="middle" >20</text>
<text x="163.80" y="538.60" font-size="10" font-weight="bold" fill="#111" text-anchor="middle" >30</text>
<text x="201.70" y="538.60" font-size="10" font-weight="bold" fill="#111" text-anchor="middle" >40</text>
<text x="239.60" y="538.60" font-size="10" font-weight="bold" fill="#111" text-anchor="middle" >50</text>
<text x="142.80" y="556.40" font-size="14" font-weight="bold" fill="#111" text-anchor="middle"  textLength="56.4" lengthAdjust="spacingAndGlyphs">Time (h)</text>
<text transform="translate(18.0,447.9) rotate(-90)" font-size="14.8" font-weight="bold" fill="#111" text-anchor="middle">Size (nm)</text>
<text x="2.00" y="374.80" font-size="20.5" font-weight="bold" fill="#000" text-anchor="start" >B</text>
<g stroke="#f23a3a" stroke-width="1.0"><line x1="50.10" y1="400.23" x2="50.10" y2="407.56"/><line x1="47.90" y1="400.23" x2="52.30" y2="400.23"/><line x1="47.90" y1="407.56" x2="52.30" y2="407.56"/></g>
<g stroke="#f23a3a" stroke-width="1.0"><line x1="57.68" y1="406.34" x2="57.68" y2="412.45"/><line x1="55.48" y1="406.34" x2="59.88" y2="406.34"/><line x1="55.48" y1="412.45" x2="59.88" y2="412.45"/></g>
<g stroke="#f23a3a" stroke-width="1.0"><line x1="65.26" y1="406.34" x2="65.26" y2="412.45"/><line x1="63.06" y1="406.34" x2="67.46" y2="406.34"/><line x1="63.06" y1="412.45" x2="67.46" y2="412.45"/></g>
<g stroke="#f23a3a" stroke-width="1.0"><line x1="80.42" y1="403.89" x2="80.42" y2="410.00"/><line x1="78.22" y1="403.89" x2="82.62" y2="403.89"/><line x1="78.22" y1="410.00" x2="82.62" y2="410.00"/></g>
<g stroke="#f23a3a" stroke-width="1.0"><line x1="95.58" y1="402.06" x2="95.58" y2="408.17"/><line x1="93.38" y1="402.06" x2="97.78" y2="402.06"/><line x1="93.38" y1="408.17" x2="97.78" y2="408.17"/></g>
<g stroke="#f23a3a" stroke-width="1.0"><line x1="141.06" y1="402.67" x2="141.06" y2="411.22"/><line x1="138.86" y1="402.67" x2="143.26" y2="402.67"/><line x1="138.86" y1="411.22" x2="143.26" y2="411.22"/></g>
<g stroke="#f23a3a" stroke-width="1.0"><line x1="232.02" y1="400.84" x2="232.02" y2="406.95"/><line x1="229.82" y1="400.84" x2="234.22" y2="400.84"/><line x1="229.82" y1="406.95" x2="234.22" y2="406.95"/></g>
<polyline points="50.10,403.89 57.68,409.39 65.26,409.39 80.42,406.95 95.58,405.12 141.06,406.95 232.02,403.89" fill="none" stroke="#f23a3a" stroke-width="2.0" stroke-linejoin="round"/>
<rect x="47.30" y="401.09" width="5.6" height="5.6" fill="#f23a3a"/>
<rect x="54.88" y="406.59" width="5.6" height="5.6" fill="#f23a3a"/>
<rect x="62.46" y="406.59" width="5.6" height="5.6" fill="#f23a3a"/>
<rect x="77.62" y="404.15" width="5.6" height="5.6" fill="#f23a3a"/>
<rect x="92.78" y="402.32" width="5.6" height="5.6" fill="#f23a3a"/>
<rect x="138.26" y="404.15" width="5.6" height="5.6" fill="#f23a3a"/>
<rect x="229.22" y="401.09" width="5.6" height="5.6" fill="#f23a3a"/>
<g stroke="#7a12e6" stroke-width="1.0"><line x1="50.10" y1="395.95" x2="50.10" y2="404.50"/><line x1="47.90" y1="395.95" x2="52.30" y2="395.95"/><line x1="47.90" y1="404.50" x2="52.30" y2="404.50"/></g>
<g stroke="#7a12e6" stroke-width="1.0"><line x1="57.68" y1="399.62" x2="57.68" y2="408.17"/><line x1="55.48" y1="399.62" x2="59.88" y2="399.62"/><line x1="55.48" y1="408.17" x2="59.88" y2="408.17"/></g>
<g stroke="#7a12e6" stroke-width="1.0"><line x1="65.26" y1="405.12" x2="65.26" y2="412.45"/><line x1="63.06" y1="405.12" x2="67.46" y2="405.12"/><line x1="63.06" y1="412.45" x2="67.46" y2="412.45"/></g>
<g stroke="#7a12e6" stroke-width="1.0"><line x1="80.42" y1="404.50" x2="80.42" y2="411.83"/><line x1="78.22" y1="404.50" x2="82.62" y2="404.50"/><line x1="78.22" y1="411.83" x2="82.62" y2="411.83"/></g>
<g stroke="#7a12e6" stroke-width="1.0"><line x1="95.58" y1="400.84" x2="95.58" y2="409.39"/><line x1="93.38" y1="400.84" x2="97.78" y2="400.84"/><line x1="93.38" y1="409.39" x2="97.78" y2="409.39"/></g>
<g stroke="#7a12e6" stroke-width="1.0"><line x1="141.06" y1="391.07" x2="141.06" y2="411.83"/><line x1="138.86" y1="391.07" x2="143.26" y2="391.07"/><line x1="138.86" y1="411.83" x2="143.26" y2="411.83"/></g>
<g stroke="#7a12e6" stroke-width="1.0"><line x1="232.02" y1="389.23" x2="232.02" y2="422.22"/><line x1="229.82" y1="389.23" x2="234.22" y2="389.23"/><line x1="229.82" y1="422.22" x2="234.22" y2="422.22"/></g>
<polyline points="50.10,400.23 57.68,403.89 65.26,408.78 80.42,408.17 95.58,405.12 141.06,401.45 232.02,405.73" fill="none" stroke="#7a12e6" stroke-width="2.0" stroke-linejoin="round"/>
<circle cx="50.10" cy="400.23" r="2.94" fill="#7a12e6"/>
<circle cx="57.68" cy="403.89" r="2.94" fill="#7a12e6"/>
<circle cx="65.26" cy="408.78" r="2.94" fill="#7a12e6"/>
<circle cx="80.42" cy="408.17" r="2.94" fill="#7a12e6"/>
<circle cx="95.58" cy="405.12" r="2.94" fill="#7a12e6"/>
<circle cx="141.06" cy="401.45" r="2.94" fill="#7a12e6"/>
<circle cx="232.02" cy="405.73" r="2.94" fill="#7a12e6"/>
<g stroke="#2a4cf0" stroke-width="1.0"><line x1="50.10" y1="399.62" x2="50.10" y2="405.73"/><line x1="47.90" y1="399.62" x2="52.30" y2="399.62"/><line x1="47.90" y1="405.73" x2="52.30" y2="405.73"/></g>
<g stroke="#2a4cf0" stroke-width="1.0"><line x1="57.68" y1="409.39" x2="57.68" y2="416.72"/><line x1="55.48" y1="409.39" x2="59.88" y2="409.39"/><line x1="55.48" y1="416.72" x2="59.88" y2="416.72"/></g>
<g stroke="#2a4cf0" stroke-width="1.0"><line x1="65.26" y1="411.83" x2="65.26" y2="419.16"/><line x1="63.06" y1="411.83" x2="67.46" y2="411.83"/><line x1="63.06" y1="419.16" x2="67.46" y2="419.16"/></g>
<g stroke="#2a4cf0" stroke-width="1.0"><line x1="80.42" y1="416.11" x2="80.42" y2="422.22"/><line x1="78.22" y1="416.11" x2="82.62" y2="416.11"/><line x1="78.22" y1="422.22" x2="82.62" y2="422.22"/></g>
<g stroke="#2a4cf0" stroke-width="1.0"><line x1="95.58" y1="416.72" x2="95.58" y2="422.83"/><line x1="93.38" y1="416.72" x2="97.78" y2="416.72"/><line x1="93.38" y1="422.83" x2="97.78" y2="422.83"/></g>
<g stroke="#2a4cf0" stroke-width="1.0"><line x1="141.06" y1="418.55" x2="141.06" y2="424.66"/><line x1="138.86" y1="418.55" x2="143.26" y2="418.55"/><line x1="138.86" y1="424.66" x2="143.26" y2="424.66"/></g>
<g stroke="#2a4cf0" stroke-width="1.0"><line x1="232.02" y1="419.77" x2="232.02" y2="427.10"/><line x1="229.82" y1="419.77" x2="234.22" y2="419.77"/><line x1="229.82" y1="427.10" x2="234.22" y2="427.10"/></g>
<polyline points="50.10,402.67 57.68,413.06 65.26,415.50 80.42,419.16 95.58,419.77 141.06,421.61 232.02,423.44" fill="none" stroke="#2a4cf0" stroke-width="2.0" stroke-linejoin="round"/>
<polygon points="50.10,399.45 47.02,405.05 53.18,405.05" fill="#2a4cf0"/>
<polygon points="57.68,409.84 54.60,415.44 60.76,415.44" fill="#2a4cf0"/>
<polygon points="65.26,412.28 62.18,417.88 68.34,417.88" fill="#2a4cf0"/>
<polygon points="80.42,415.94 77.34,421.54 83.50,421.54" fill="#2a4cf0"/>
<polygon points="95.58,416.55 92.50,422.15 98.66,422.15" fill="#2a4cf0"/>
<polygon points="141.06,418.39 137.98,423.99 144.14,423.99" fill="#2a4cf0"/>
<polygon points="232.02,420.22 228.94,425.82 235.10,425.82" fill="#2a4cf0"/>
<g stroke="#1ea8f8" stroke-width="1.0"><line x1="50.10" y1="401.45" x2="50.10" y2="408.78"/><line x1="47.90" y1="401.45" x2="52.30" y2="401.45"/><line x1="47.90" y1="408.78" x2="52.30" y2="408.78"/></g>
<g stroke="#1ea8f8" stroke-width="1.0"><line x1="57.68" y1="414.28" x2="57.68" y2="421.61"/><line x1="55.48" y1="414.28" x2="59.88" y2="414.28"/><line x1="55.48" y1="421.61" x2="59.88" y2="421.61"/></g>
<g stroke="#1ea8f8" stroke-width="1.0"><line x1="65.26" y1="414.89" x2="65.26" y2="423.44"/><line x1="63.06" y1="414.89" x2="67.46" y2="414.89"/><line x1="63.06" y1="423.44" x2="67.46" y2="423.44"/></g>
<g stroke="#1ea8f8" stroke-width="1.0"><line x1="80.42" y1="417.94" x2="80.42" y2="426.49"/><line x1="78.22" y1="417.94" x2="82.62" y2="417.94"/><line x1="78.22" y1="426.49" x2="82.62" y2="426.49"/></g>
<g stroke="#1ea8f8" stroke-width="1.0"><line x1="95.58" y1="417.33" x2="95.58" y2="424.66"/><line x1="93.38" y1="417.33" x2="97.78" y2="417.33"/><line x1="93.38" y1="424.66" x2="97.78" y2="424.66"/></g>
<g stroke="#1ea8f8" stroke-width="1.0"><line x1="141.06" y1="419.16" x2="141.06" y2="425.27"/><line x1="138.86" y1="419.16" x2="143.26" y2="419.16"/><line x1="138.86" y1="425.27" x2="143.26" y2="425.27"/></g>
<g stroke="#1ea8f8" stroke-width="1.0"><line x1="232.02" y1="422.22" x2="232.02" y2="428.33"/><line x1="229.82" y1="422.22" x2="234.22" y2="422.22"/><line x1="229.82" y1="428.33" x2="234.22" y2="428.33"/></g>
<polyline points="50.10,405.12 57.68,417.94 65.26,419.16 80.42,422.22 95.58,421.00 141.06,422.22 232.02,425.27" fill="none" stroke="#1ea8f8" stroke-width="2.0" stroke-linejoin="round"/>
<polygon points="50.10,408.34 47.02,402.74 53.18,402.74" fill="#1ea8f8"/>
<polygon points="57.68,421.16 54.60,415.56 60.76,415.56" fill="#1ea8f8"/>
<polygon points="65.26,422.38 62.18,416.78 68.34,416.78" fill="#1ea8f8"/>
<polygon points="80.42,425.44 77.34,419.84 83.50,419.84" fill="#1ea8f8"/>
<polygon points="95.58,424.22 92.50,418.62 98.66,418.62" fill="#1ea8f8"/>
<polygon points="141.06,425.44 137.98,419.84 144.14,419.84" fill="#1ea8f8"/>
<polygon points="232.02,428.49 228.94,422.89 235.10,422.89" fill="#1ea8f8"/>
<g stroke="#3c3c3c" stroke-width="1.0"><line x1="50.10" y1="398.40" x2="50.10" y2="404.50"/><line x1="47.90" y1="398.40" x2="52.30" y2="398.40"/><line x1="47.90" y1="404.50" x2="52.30" y2="404.50"/></g>
<g stroke="#3c3c3c" stroke-width="1.0"><line x1="57.68" y1="411.22" x2="57.68" y2="417.33"/><line x1="55.48" y1="411.22" x2="59.88" y2="411.22"/><line x1="55.48" y1="417.33" x2="59.88" y2="417.33"/></g>
<g stroke="#3c3c3c" stroke-width="1.0"><line x1="65.26" y1="411.83" x2="65.26" y2="417.94"/><line x1="63.06" y1="411.83" x2="67.46" y2="411.83"/><line x1="63.06" y1="417.94" x2="67.46" y2="417.94"/></g>
<g stroke="#3c3c3c" stroke-width="1.0"><line x1="80.42" y1="415.50" x2="80.42" y2="420.39"/><line x1="78.22" y1="415.50" x2="82.62" y2="415.50"/><line x1="78.22" y1="420.39" x2="82.62" y2="420.39"/></g>
<g stroke="#3c3c3c" stroke-width="1.0"><line x1="95.58" y1="415.50" x2="95.58" y2="420.39"/><line x1="93.38" y1="415.50" x2="97.78" y2="415.50"/><line x1="93.38" y1="420.39" x2="97.78" y2="420.39"/></g>
<g stroke="#3c3c3c" stroke-width="1.0"><line x1="141.06" y1="419.16" x2="141.06" y2="424.05"/><line x1="138.86" y1="419.16" x2="143.26" y2="419.16"/><line x1="138.86" y1="424.05" x2="143.26" y2="424.05"/></g>
<g stroke="#3c3c3c" stroke-width="1.0"><line x1="232.02" y1="446.65" x2="232.02" y2="450.31"/><line x1="229.82" y1="446.65" x2="234.22" y2="446.65"/><line x1="229.82" y1="450.31" x2="234.22" y2="450.31"/></g>
<polyline points="50.10,401.45 57.68,414.28 65.26,414.89 80.42,417.94 95.58,417.94 141.06,421.61 232.02,448.48" fill="none" stroke="#3c3c3c" stroke-width="2.0" stroke-linejoin="round"/>
<polygon points="50.10,397.81 53.74,401.45 50.10,405.09 46.46,401.45" fill="#3c3c3c"/>
<polygon points="57.68,410.64 61.32,414.28 57.68,417.92 54.04,414.28" fill="#3c3c3c"/>
<polygon points="65.26,411.25 68.90,414.89 65.26,418.53 61.62,414.89" fill="#3c3c3c"/>
<polygon points="80.42,414.30 84.06,417.94 80.42,421.58 76.78,417.94" fill="#3c3c3c"/>
<polygon points="95.58,414.30 99.22,417.94 95.58,421.58 91.94,417.94" fill="#3c3c3c"/>
<polygon points="141.06,417.97 144.70,421.61 141.06,425.25 137.42,421.61" fill="#3c3c3c"/>
<polygon points="232.02,444.84 235.66,448.48 232.02,452.12 228.38,448.48" fill="#3c3c3c"/>
<g stroke="#f08a24" stroke-width="1.0"><line x1="50.10" y1="386.18" x2="50.10" y2="411.83"/><line x1="47.90" y1="386.18" x2="52.30" y2="386.18"/><line x1="47.90" y1="411.83" x2="52.30" y2="411.83"/></g>
<g stroke="#f08a24" stroke-width="1.0"><line x1="57.68" y1="426.49" x2="57.68" y2="430.16"/><line x1="55.48" y1="426.49" x2="59.88" y2="426.49"/><line x1="55.48" y1="430.16" x2="59.88" y2="430.16"/></g>
<g stroke="#f08a24" stroke-width="1.0"><line x1="65.26" y1="428.94" x2="65.26" y2="432.60"/><line x1="63.06" y1="428.94" x2="67.46" y2="428.94"/><line x1="63.06" y1="432.60" x2="67.46" y2="432.60"/></g>
<g stroke="#f08a24" stroke-width="1.0"><line x1="80.42" y1="441.76" x2="80.42" y2="445.43"/><line x1="78.22" y1="441.76" x2="82.62" y2="441.76"/><line x1="78.22" y1="445.43" x2="82.62" y2="445.43"/></g>
<g stroke="#f08a24" stroke-width="1.0"><line x1="95.58" y1="445.43" x2="95.58" y2="449.09"/><line x1="93.38" y1="445.43" x2="97.78" y2="445.43"/><line x1="93.38" y1="449.09" x2="97.78" y2="449.09"/></g>
<g stroke="#f08a24" stroke-width="1.0"><line x1="141.06" y1="460.09" x2="141.06" y2="463.75"/><line x1="138.86" y1="460.09" x2="143.26" y2="460.09"/><line x1="138.86" y1="463.75" x2="143.26" y2="463.75"/></g>
<g stroke="#f08a24" stroke-width="1.0"><line x1="232.02" y1="521.78" x2="232.02" y2="524.22"/><line x1="229.82" y1="521.78" x2="234.22" y2="521.78"/><line x1="229.82" y1="524.22" x2="234.22" y2="524.22"/></g>
<polyline points="50.10,399.01 57.68,428.33 65.26,430.77 80.42,443.60 95.58,447.26 141.06,461.92 232.02,523.00" fill="none" stroke="#f08a24" stroke-width="2.0" stroke-linejoin="round"/>
<polygon points="46.88,399.01 52.48,395.93 52.48,402.09" fill="#f08a24"/>
<polygon points="54.46,428.33 60.06,425.25 60.06,431.41" fill="#f08a24"/>
<polygon points="62.04,430.77 67.64,427.69 67.64,433.85" fill="#f08a24"/>
<polygon points="77.20,443.60 82.80,440.52 82.80,446.68" fill="#f08a24"/>
<polygon points="92.36,447.26 97.96,444.18 97.96,450.34" fill="#f08a24"/>
<polygon points="137.84,461.92 143.44,458.84 143.44,465.00" fill="#f08a24"/>
<polygon points="228.80,523.00 234.40,519.92 234.40,526.08" fill="#f08a24"/>
<text x="221.60" y="436.00" font-size="12" font-weight="bold" fill="#555555" text-anchor="middle">***</text>
<text x="221.90" y="458.00" font-size="12" font-weight="bold" fill="#555555" text-anchor="middle">***</text>
<text x="220.50" y="529.80" font-size="12" font-weight="bold" fill="#555555" text-anchor="middle">***</text>
<line x1="49.3" y1="459.6" x2="72.7" y2="459.6" stroke="#f23a3a" stroke-width="1.8"/>
<rect x="58.60" y="457.10" width="5" height="5" fill="#f23a3a"/>
<text x="74.60" y="463.10" font-size="10.1" font-weight="bold" fill="#111" text-anchor="start" >pH 7.4</text>
<line x1="49.3" y1="471.6" x2="72.7" y2="471.6" stroke="#7a12e6" stroke-width="1.8"/>
<circle cx="61.10" cy="471.60" r="2.62" fill="#7a12e6"/>
<text x="74.60" y="475.10" font-size="10.1" font-weight="bold" fill="#111" text-anchor="start" >pH 7.0</text>
<line x1="49.3" y1="483.6" x2="72.7" y2="483.6" stroke="#2a4cf0" stroke-width="1.8"/>
<polygon points="61.10,480.73 58.35,485.73 63.85,485.73" fill="#2a4cf0"/>
<text x="74.60" y="487.10" font-size="10.1" font-weight="bold" fill="#111" text-anchor="start" >pH 6.8</text>
<line x1="49.3" y1="495.6" x2="72.7" y2="495.6" stroke="#1ea8f8" stroke-width="1.8"/>
<polygon points="61.10,498.48 58.35,493.48 63.85,493.48" fill="#1ea8f8"/>
<text x="74.60" y="499.10" font-size="10.1" font-weight="bold" fill="#111" text-anchor="start" >pH 6.0</text>
<line x1="49.3" y1="507.6" x2="72.7" y2="507.6" stroke="#3c3c3c" stroke-width="1.8"/>
<polygon points="61.10,504.35 64.35,507.60 61.10,510.85 57.85,507.60" fill="#3c3c3c"/>
<text x="74.60" y="511.10" font-size="10.1" font-weight="bold" fill="#111" text-anchor="start" >pH 5.0</text>
<line x1="49.3" y1="519.6" x2="72.7" y2="519.6" stroke="#f08a24" stroke-width="1.8"/>
<polygon points="58.23,519.60 63.23,516.85 63.23,522.35" fill="#f08a24"/>
<text x="74.60" y="523.10" font-size="10.1" font-weight="bold" fill="#111" text-anchor="start" >pH 1.0</text>
<clipPath id="clipC"><rect x="290.7" y="373.8" width="185.3" height="152.7"/></clipPath>
<g clip-path="url(#clipC)"><g filter="url(#temC)">
<rect x="290.7" y="373.8" width="185.3" height="152.7" fill="#9e9e9e"/>
<g filter="url(#blur4)"><ellipse cx="291.7" cy="462" rx="7" ry="48" fill="#585858"/><circle cx="304.6" cy="427.7" r="19" fill="#747474"/><ellipse cx="293.7" cy="408" rx="6" ry="14" fill="#7a7a7a"/></g>
<g filter="url(#blur2)">
<circle cx="304.6" cy="427.7" r="13.2" fill="#dadada"/>
<circle cx="324.7" cy="391.7" r="6" fill="#b4b4b4"/>
<circle cx="385.2" cy="394.6" r="8.5" fill="#b5b5b5"/>
<circle cx="365" cy="416.2" r="8.5" fill="#b4b4b4"/>
<circle cx="414" cy="406" r="6.5" fill="#b0b0b0"/>
<circle cx="431.3" cy="381.6" r="7.5" fill="#b2b2b2"/>
<circle cx="451.5" cy="384.5" r="7.5" fill="#b0b0b0"/>
<circle cx="347.8" cy="462.3" r="8" fill="#b7b7b7"/>
<circle cx="370.8" cy="468" r="5" fill="#b0b0b0"/>
<circle cx="425.6" cy="459.4" r="12.5" fill="#b4b4b4"/>
<circle cx="454.4" cy="463.7" r="7" fill="#afafaf"/>
<circle cx="301.7" cy="475.2" r="11.5" fill="#bababa"/>
<circle cx="365" cy="492.5" r="10" fill="#b4b4b4"/>
<circle cx="404" cy="495.4" r="10" fill="#b5b5b5"/>
<circle cx="457.3" cy="411.9" r="6" fill="#afafaf"/>
<circle cx="468.8" cy="430.6" r="5" fill="#adadad"/>
<circle cx="300" cy="505" r="7" fill="#a9a9a9"/>
<circle cx="436" cy="505" r="6" fill="#a9a9a9"/>
<circle cx="392" cy="432" r="6" fill="#a8a8a8"/>
</g>
</g></g>
<rect x="294.9" y="516.2" width="28.8" height="3.9" fill="#000"/>
<text x="294.90" y="513.60" font-size="9.1" font-weight="normal" fill="#000" text-anchor="start" >200 nm</text>
<text x="248.60" y="374.20" font-size="20.5" font-weight="bold" fill="#000" text-anchor="start" >C</text>
<clipPath id="clipD"><rect x="527.5" y="373.8" width="192.79999999999995" height="152.90000000000003"/></clipPath>
<g clip-path="url(#clipD)"><g filter="url(#temD)">
<rect x="527.5" y="373.8" width="192.79999999999995" height="152.90000000000003" fill="#6d6d6d"/>
<g filter="url(#blur05)">
<circle cx="603.1" cy="382.5" r="9" fill="#929292" stroke="#464646" stroke-width="0.9"/>
<circle cx="644.6" cy="391.5" r="8.4" fill="#929292" stroke="#464646" stroke-width="0.9"/>
<circle cx="680.6" cy="393" r="14.4" fill="#929292" stroke="#464646" stroke-width="0.9"/>
<circle cx="612.1" cy="405.1" r="5.4" fill="#929292" stroke="#464646" stroke-width="0.9"/>
<circle cx="565" cy="425.5" r="6.6" fill="#929292" stroke="#464646" stroke-width="0.9"/>
<circle cx="605.5" cy="424.6" r="12.6" fill="#929292" stroke="#464646" stroke-width="0.9"/>
<circle cx="659.3" cy="424" r="6" fill="#929292" stroke="#464646" stroke-width="0.9"/>
<circle cx="610" cy="446.2" r="4.2" fill="#929292" stroke="#464646" stroke-width="0.9"/>
<circle cx="650.6" cy="451" r="6.6" fill="#929292" stroke="#464646" stroke-width="0.9"/>
<circle cx="698.3" cy="448.6" r="9.6" fill="#929292" stroke="#464646" stroke-width="0.9"/>
<circle cx="559.6" cy="456.1" r="5.4" fill="#929292" stroke="#464646" stroke-width="0.9"/>
<circle cx="580" cy="473.2" r="12" fill="#929292" stroke="#464646" stroke-width="0.9"/>
<circle cx="644.3" cy="477.2" r="8.4" fill="#929292" stroke="#464646" stroke-width="0.9"/>
<circle cx="712.8" cy="478" r="6" fill="#929292" stroke="#464646" stroke-width="0.9"/>
<circle cx="602.5" cy="493.7" r="8.4" fill="#929292" stroke="#464646" stroke-width="0.9"/>
<circle cx="668.6" cy="493.7" r="11.4" fill="#929292" stroke="#464646" stroke-width="0.9"/>
<circle cx="697.4" cy="495.2" r="4.2" fill="#929292" stroke="#464646" stroke-width="0.9"/>
<circle cx="585.1" cy="505.7" r="8.4" fill="#929292" stroke="#464646" stroke-width="0.9"/>
<circle cx="691.7" cy="511.7" r="6.6" fill="#929292" stroke="#464646" stroke-width="0.9"/>
<circle cx="637.1" cy="517.7" r="4.2" fill="#929292" stroke="#464646" stroke-width="0.9"/>
</g>
</g></g>
<rect x="531.2" y="516.6" width="31.4" height="3.3" fill="#000"/>
<text x="532.40" y="514.20" font-size="9.0" font-weight="normal" fill="#000" text-anchor="start" >200 nm</text>
<text x="501.40" y="374.60" font-size="20.5" font-weight="bold" fill="#000" text-anchor="start" >D</text>
<g stroke="#8f8f8f" stroke-width="1.1" fill="none"><polyline points="44.8,565.6 44.8,721.7 238.5,721.7"/></g>
<g stroke="#8f8f8f" stroke-width="0.9">
<line x1="41.8" y1="719.60" x2="44.8" y2="719.60"/>
<line x1="43.0" y1="704.25" x2="44.8" y2="704.25"/>
<line x1="41.8" y1="688.90" x2="44.8" y2="688.90"/>
<line x1="43.0" y1="673.55" x2="44.8" y2="673.55"/>
<line x1="41.8" y1="658.20" x2="44.8" y2="658.20"/>
<line x1="43.0" y1="642.85" x2="44.8" y2="642.85"/>
<line x1="41.8" y1="627.50" x2="44.8" y2="627.50"/>
<line x1="43.0" y1="612.15" x2="44.8" y2="612.15"/>
<line x1="41.8" y1="596.80" x2="44.8" y2="596.80"/>
<line x1="43.0" y1="581.45" x2="44.8" y2="581.45"/>
<line x1="41.8" y1="566.10" x2="44.8" y2="566.10"/>
<line x1="57.50" y1="721.7" x2="57.50" y2="724.2"/>
<line x1="81.80" y1="721.7" x2="81.80" y2="724.2"/>
<line x1="106.10" y1="721.7" x2="106.10" y2="724.2"/>
<line x1="130.40" y1="721.7" x2="130.40" y2="724.2"/>
<line x1="154.70" y1="721.7" x2="154.70" y2="724.2"/>
<line x1="179.00" y1="721.7" x2="179.00" y2="724.2"/>
<line x1="203.30" y1="721.7" x2="203.30" y2="724.2"/>
<line x1="227.60" y1="721.7" x2="227.60" y2="724.2"/>
</g>
<text x="39.60" y="723.00" font-size="10" font-weight="bold" fill="#111" text-anchor="end" >0</text>
<text x="39.60" y="692.30" font-size="10" font-weight="bold" fill="#111" text-anchor="end" >50</text>
<text x="39.60" y="661.60" font-size="10" font-weight="bold" fill="#111" text-anchor="end" >100</text>
<text x="39.60" y="630.90" font-size="10" font-weight="bold" fill="#111" text-anchor="end" >150</text>
<text x="39.60" y="600.20" font-size="10" font-weight="bold" fill="#111" text-anchor="end" >200</text>
<text x="39.60" y="569.50" font-size="10" font-weight="bold" fill="#111" text-anchor="end" >250</text>
<text x="57.50" y="735.60" font-size="10" font-weight="bold" fill="#111" text-anchor="middle" >0</text>
<text x="81.80" y="735.60" font-size="10" font-weight="bold" fill="#111" text-anchor="middle" >2</text>
<text x="106.10" y="735.60" font-size="10" font-weight="bold" fill="#111" text-anchor="middle" >2.7</text>
<text x="130.40" y="735.60" font-size="10" font-weight="bold" fill="#111" text-anchor="middle" >4.2</text>
<text x="154.70" y="735.60" font-size="10" font-weight="bold" fill="#111" text-anchor="middle" >10.2</text>
<text x="179.00" y="735.60" font-size="10" font-weight="bold" fill="#111" text-anchor="middle" >58.2</text>
<text x="203.30" y="735.60" font-size="10" font-weight="bold" fill="#111" text-anchor="middle" >82.2</text>
<text x="227.60" y="735.60" font-size="10" font-weight="bold" fill="#111" text-anchor="middle" >106.2</text>
<text x="142.20" y="754.00" font-size="14" font-weight="bold" fill="#111" text-anchor="middle"  textLength="56.9" lengthAdjust="spacingAndGlyphs">Time (h)</text>
<text transform="translate(17.3,644.2) rotate(-90)" font-size="14.6" font-weight="bold" fill="#111" text-anchor="middle">Size (nm)</text>
<text x="2.00" y="560.60" font-size="20.5" font-weight="bold" fill="#000" text-anchor="start" >E</text>
<line x1="57.50" y1="598.40" x2="57.50" y2="721.70" stroke="#f08a24" stroke-width="1.3" stroke-dasharray="1.3,1.2"/>
<line x1="81.80" y1="623.45" x2="81.80" y2="721.70" stroke="#3c3c3c" stroke-width="1.3" stroke-dasharray="1.3,1.2"/>
<line x1="106.10" y1="628.37" x2="106.10" y2="721.70" stroke="#22c9d2" stroke-width="1.3" stroke-dasharray="1.3,1.2"/>
<line x1="130.40" y1="629.84" x2="130.40" y2="721.70" stroke="#9a1fd8" stroke-width="1.3" stroke-dasharray="1.3,1.2"/>
<line x1="154.70" y1="630.39" x2="154.70" y2="721.70" stroke="#f0383c" stroke-width="1.3" stroke-dasharray="1.3,1.2"/>
<line x1="179.00" y1="630.58" x2="179.00" y2="721.70" stroke="#2a4cf0" stroke-width="1.3" stroke-dasharray="1.3,1.2"/>
<line x1="203.30" y1="634.26" x2="203.30" y2="721.70" stroke="#3c3c3c" stroke-width="1.3" stroke-dasharray="1.3,1.2"/>
<line x1="57.50" y1="598.70" x2="81.80" y2="623.75" stroke="#f08a24" stroke-width="2"/>
<line x1="81.80" y1="623.75" x2="106.10" y2="628.67" stroke="#3c3c3c" stroke-width="2"/>
<line x1="106.10" y1="628.67" x2="130.40" y2="630.14" stroke="#22c9d2" stroke-width="2"/>
<line x1="130.40" y1="630.14" x2="154.70" y2="630.69" stroke="#9a1fd8" stroke-width="2"/>
<line x1="154.70" y1="630.69" x2="179.00" y2="630.88" stroke="#f0383c" stroke-width="2"/>
<line x1="179.00" y1="630.88" x2="203.30" y2="634.56" stroke="#2a4cf0" stroke-width="2"/>
<line x1="203.30" y1="634.56" x2="227.60" y2="718.68" stroke="#3c3c3c" stroke-width="2"/>
<g stroke="#f08a24" stroke-width="1.0"><line x1="57.50" y1="594.04" x2="57.50" y2="603.25"/><line x1="55.30" y1="594.04" x2="59.70" y2="594.04"/><line x1="55.30" y1="603.25" x2="59.70" y2="603.25"/></g>
<g stroke="#3c3c3c" stroke-width="1.0"><line x1="81.80" y1="620.75" x2="81.80" y2="626.89"/><line x1="79.60" y1="620.75" x2="84.00" y2="620.75"/><line x1="79.60" y1="626.89" x2="84.00" y2="626.89"/></g>
<rect x="55.40" y="596.60" width="4.2" height="4.2" fill="#f08a24"/>
<rect x="79.70" y="621.65" width="4.2" height="4.2" fill="#3c3c3c"/>
<rect x="104.00" y="626.57" width="4.2" height="4.2" fill="#22c9d2"/>
<rect x="128.30" y="628.04" width="4.2" height="4.2" fill="#9a1fd8"/>
<rect x="152.60" y="628.59" width="4.2" height="4.2" fill="#f0383c"/>
<rect x="176.90" y="628.78" width="4.2" height="4.2" fill="#2a4cf0"/>
<rect x="201.20" y="632.46" width="4.2" height="4.2" fill="#3c3c3c"/>
<rect x="225.50" y="716.58" width="4.2" height="4.2" fill="#a44a4a"/>
<text x="62.9" y="594.0" font-size="7" font-weight="bold" fill="#f0383c" text-anchor="middle">196.9 nm</text>
<text x="88.5" y="615.4" font-size="7" font-weight="bold" fill="#f08a24" text-anchor="middle">156.1 nm</text>
<text x="111.3" y="622.2" font-size="7" font-weight="bold" fill="#474747" text-anchor="middle">148.1 nm</text>
<text x="134.4" y="627.7" font-size="7" font-weight="bold" fill="#22a8e8" text-anchor="middle">145.7 nm</text>
<text x="151.6" y="622.8" font-size="7" font-weight="bold" fill="#9a1fd8" text-anchor="middle">144.8 nm</text>
<text x="183.0" y="622.8" font-size="7" font-weight="bold" fill="#f0383c" text-anchor="middle">144.5 nm</text>
<text x="206.6" y="629.1" font-size="7" font-weight="bold" fill="#2a4cf0" text-anchor="middle">138.5 nm</text>
<text x="58.60" y="720.3" font-size="7.3" font-weight="bold" fill="#f08a24">pH 1.0</text>
<text x="82.90" y="720.3" font-size="7.3" font-weight="normal" fill="#3c3c3c">pH 5.0</text>
<text x="107.20" y="720.3" font-size="7.3" font-weight="bold" fill="#22c9d2">pH 6.0</text>
<text x="131.50" y="720.3" font-size="7.3" font-weight="bold" fill="#9a1fd8">pH 7.0</text>
<text x="155.80" y="720.3" font-size="7.3" font-weight="bold" fill="#f0383c">pH 7.4</text>
<text x="180.10" y="720.3" font-size="7.3" font-weight="bold" fill="#2a4cf0">pH 6.8</text>
<text x="204.40" y="720.3" font-size="7.3" font-weight="normal" fill="#3c3c3c">pH 5.0</text>
<g stroke="#8f8f8f" stroke-width="1.1" fill="none"><polyline points="291.3,566.8 291.3,722.4 484.00,722.4"/></g>
<g stroke="#8f8f8f" stroke-width="0.9">
<line x1="288.3" y1="717.30" x2="291.3" y2="717.30"/>
<line x1="289.5" y1="704.80" x2="291.3" y2="704.80"/>
<line x1="288.3" y1="692.30" x2="291.3" y2="692.30"/>
<line x1="289.5" y1="679.80" x2="291.3" y2="679.80"/>
<line x1="288.3" y1="667.30" x2="291.3" y2="667.30"/>
<line x1="289.5" y1="654.80" x2="291.3" y2="654.80"/>
<line x1="288.3" y1="642.30" x2="291.3" y2="642.30"/>
<line x1="289.5" y1="629.80" x2="291.3" y2="629.80"/>
<line x1="288.3" y1="617.30" x2="291.3" y2="617.30"/>
<line x1="289.5" y1="604.80" x2="291.3" y2="604.80"/>
<line x1="288.3" y1="592.30" x2="291.3" y2="592.30"/>
<line x1="289.5" y1="579.80" x2="291.3" y2="579.80"/>
<line x1="288.3" y1="567.30" x2="291.3" y2="567.30"/>
<line x1="298.00" y1="722.4" x2="298.00" y2="724.9"/>
<line x1="316.52" y1="722.4" x2="316.52" y2="723.9"/>
<line x1="335.04" y1="722.4" x2="335.04" y2="724.9"/>
<line x1="353.56" y1="722.4" x2="353.56" y2="723.9"/>
<line x1="372.08" y1="722.4" x2="372.08" y2="724.9"/>
<line x1="390.60" y1="722.4" x2="390.60" y2="723.9"/>
<line x1="409.12" y1="722.4" x2="409.12" y2="724.9"/>
<line x1="427.64" y1="722.4" x2="427.64" y2="723.9"/>
<line x1="446.16" y1="722.4" x2="446.16" y2="724.9"/>
<line x1="464.68" y1="722.4" x2="464.68" y2="723.9"/>
<line x1="483.20" y1="722.4" x2="483.20" y2="724.9"/>
</g>
<text x="286.00" y="720.70" font-size="10" font-weight="bold" fill="#111" text-anchor="end" >0</text>
<text x="286.00" y="695.70" font-size="10" font-weight="bold" fill="#111" text-anchor="end" >20</text>
<text x="286.00" y="670.70" font-size="10" font-weight="bold" fill="#111" text-anchor="end" >40</text>
<text x="286.00" y="645.70" font-size="10" font-weight="bold" fill="#111" text-anchor="end" >60</text>
<text x="286.00" y="620.70" font-size="10" font-weight="bold" fill="#111" text-anchor="end" >80</text>
<text x="286.00" y="595.70" font-size="10" font-weight="bold" fill="#111" text-anchor="end" >100</text>
<text x="286.00" y="570.70" font-size="10" font-weight="bold" fill="#111" text-anchor="end" >120</text>
<text x="298.00" y="735.90" font-size="10" font-weight="bold" fill="#111" text-anchor="middle" >0</text>
<text x="335.04" y="735.90" font-size="10" font-weight="bold" fill="#111" text-anchor="middle" >10</text>
<text x="372.08" y="735.90" font-size="10" font-weight="bold" fill="#111" text-anchor="middle" >20</text>
<text x="409.12" y="735.90" font-size="10" font-weight="bold" fill="#111" text-anchor="middle" >30</text>
<text x="446.16" y="735.90" font-size="10" font-weight="bold" fill="#111" text-anchor="middle" >40</text>
<text x="483.20" y="735.90" font-size="10" font-weight="bold" fill="#111" text-anchor="middle" >50</text>
<text x="387.10" y="754.00" font-size="14" font-weight="bold" fill="#111" text-anchor="middle"  textLength="56.4" lengthAdjust="spacingAndGlyphs">Time (h)</text>
<text transform="translate(263.6,642.5) rotate(-90)" font-size="14.8" font-weight="bold" fill="#111" text-anchor="middle">Cumulative Release (%)</text>
<text x="253.80" y="559.40" font-size="20.5" font-weight="bold" fill="#000" text-anchor="start" >F</text>
<polyline points="298.00,717.30 301.70,709.80 305.41,708.55 312.82,707.30 327.63,705.42 342.45,704.80 386.90,704.80 475.79,704.80" fill="none" stroke="#f23a3a" stroke-width="2.0" stroke-linejoin="round"/>
<rect x="295.20" y="714.50" width="5.6" height="5.6" fill="#f23a3a"/>
<rect x="298.90" y="707.00" width="5.6" height="5.6" fill="#f23a3a"/>
<rect x="302.61" y="705.75" width="5.6" height="5.6" fill="#f23a3a"/>
<rect x="310.02" y="704.50" width="5.6" height="5.6" fill="#f23a3a"/>
<rect x="324.83" y="702.62" width="5.6" height="5.6" fill="#f23a3a"/>
<rect x="339.65" y="702.00" width="5.6" height="5.6" fill="#f23a3a"/>
<rect x="384.10" y="702.00" width="5.6" height="5.6" fill="#f23a3a"/>
<rect x="472.99" y="702.00" width="5.6" height="5.6" fill="#f23a3a"/>
<polyline points="298.00,717.30 301.70,711.05 305.41,709.17 312.82,707.92 327.63,707.30 342.45,706.67 386.90,706.05 475.79,706.05" fill="none" stroke="#9b14d0" stroke-width="2.0" stroke-linejoin="round"/>
<circle cx="298.00" cy="717.30" r="2.94" fill="#9b14d0"/>
<circle cx="301.70" cy="711.05" r="2.94" fill="#9b14d0"/>
<circle cx="305.41" cy="709.17" r="2.94" fill="#9b14d0"/>
<circle cx="312.82" cy="707.92" r="2.94" fill="#9b14d0"/>
<circle cx="327.63" cy="707.30" r="2.94" fill="#9b14d0"/>
<circle cx="342.45" cy="706.67" r="2.94" fill="#9b14d0"/>
<circle cx="386.90" cy="706.05" r="2.94" fill="#9b14d0"/>
<circle cx="475.79" cy="706.05" r="2.94" fill="#9b14d0"/>
<polyline points="298.00,717.30 301.70,709.80 305.41,707.92 312.82,706.05 327.63,703.55 342.45,699.80 386.90,697.92 475.79,695.42" fill="none" stroke="#2a4cf0" stroke-width="2.0" stroke-linejoin="round"/>
<polygon points="298.00,714.08 294.92,719.68 301.08,719.68" fill="#2a4cf0"/>
<polygon points="301.70,706.58 298.62,712.18 304.78,712.18" fill="#2a4cf0"/>
<polygon points="305.41,704.70 302.33,710.30 308.49,710.30" fill="#2a4cf0"/>
<polygon points="312.82,702.83 309.74,708.43 315.90,708.43" fill="#2a4cf0"/>
<polygon points="327.63,700.33 324.55,705.93 330.71,705.93" fill="#2a4cf0"/>
<polygon points="342.45,696.58 339.37,702.18 345.53,702.18" fill="#2a4cf0"/>
<polygon points="386.90,694.70 383.82,700.30 389.98,700.30" fill="#2a4cf0"/>
<polygon points="475.79,692.20 472.71,697.80 478.87,697.80" fill="#2a4cf0"/>
<polyline points="298.00,717.30 301.70,711.05 305.41,708.55 312.82,706.67 327.63,702.92 342.45,697.92 386.90,691.05 475.79,680.42" fill="none" stroke="#22c9cc" stroke-width="2.0" stroke-linejoin="round"/>
<polygon points="298.00,720.52 294.92,714.92 301.08,714.92" fill="#22c9cc"/>
<polygon points="301.70,714.27 298.62,708.67 304.78,708.67" fill="#22c9cc"/>
<polygon points="305.41,711.77 302.33,706.17 308.49,706.17" fill="#22c9cc"/>
<polygon points="312.82,709.89 309.74,704.29 315.90,704.29" fill="#22c9cc"/>
<polygon points="327.63,706.14 324.55,700.54 330.71,700.54" fill="#22c9cc"/>
<polygon points="342.45,701.14 339.37,695.54 345.53,695.54" fill="#22c9cc"/>
<polygon points="386.90,694.27 383.82,688.67 389.98,688.67" fill="#22c9cc"/>
<polygon points="475.79,683.64 472.71,678.04 478.87,678.04" fill="#22c9cc"/>
<g stroke="#3c3c3c" stroke-width="1.0"><line x1="301.70" y1="704.17" x2="301.70" y2="706.67"/><line x1="299.50" y1="704.17" x2="303.90" y2="704.17"/><line x1="299.50" y1="706.67" x2="303.90" y2="706.67"/></g>
<g stroke="#3c3c3c" stroke-width="1.0"><line x1="305.41" y1="699.80" x2="305.41" y2="704.80"/><line x1="303.21" y1="699.80" x2="307.61" y2="699.80"/><line x1="303.21" y1="704.80" x2="307.61" y2="704.80"/></g>
<g stroke="#3c3c3c" stroke-width="1.0"><line x1="312.82" y1="691.05" x2="312.82" y2="698.55"/><line x1="310.62" y1="691.05" x2="315.02" y2="691.05"/><line x1="310.62" y1="698.55" x2="315.02" y2="698.55"/></g>
<g stroke="#3c3c3c" stroke-width="1.0"><line x1="327.63" y1="679.17" x2="327.63" y2="690.42"/><line x1="325.43" y1="679.17" x2="329.83" y2="679.17"/><line x1="325.43" y1="690.42" x2="329.83" y2="690.42"/></g>
<g stroke="#3c3c3c" stroke-width="1.0"><line x1="342.45" y1="667.92" x2="342.45" y2="677.92"/><line x1="340.25" y1="667.92" x2="344.65" y2="667.92"/><line x1="340.25" y1="677.92" x2="344.65" y2="677.92"/></g>
<g stroke="#3c3c3c" stroke-width="1.0"><line x1="386.90" y1="654.80" x2="386.90" y2="664.80"/><line x1="384.70" y1="654.80" x2="389.10" y2="654.80"/><line x1="384.70" y1="664.80" x2="389.10" y2="664.80"/></g>
<g stroke="#3c3c3c" stroke-width="1.0"><line x1="475.79" y1="642.30" x2="475.79" y2="652.30"/><line x1="473.59" y1="642.30" x2="477.99" y2="642.30"/><line x1="473.59" y1="652.30" x2="477.99" y2="652.30"/></g>
<polyline points="298.00,717.30 301.70,705.42 305.41,702.30 312.82,694.80 327.63,684.80 342.45,672.92 386.90,659.80 475.79,647.30" fill="none" stroke="#3c3c3c" stroke-width="2.0" stroke-linejoin="round"/>
<polygon points="298.00,713.66 301.64,717.30 298.00,720.94 294.36,717.30" fill="#3c3c3c"/>
<polygon points="301.70,701.78 305.34,705.42 301.70,709.06 298.06,705.42" fill="#3c3c3c"/>
<polygon points="305.41,698.66 309.05,702.30 305.41,705.94 301.77,702.30" fill="#3c3c3c"/>
<polygon points="312.82,691.16 316.46,694.80 312.82,698.44 309.18,694.80" fill="#3c3c3c"/>
<polygon points="327.63,681.16 331.27,684.80 327.63,688.44 323.99,684.80" fill="#3c3c3c"/>
<polygon points="342.45,669.28 346.09,672.92 342.45,676.56 338.81,672.92" fill="#3c3c3c"/>
<polygon points="386.90,656.16 390.54,659.80 386.90,663.44 383.26,659.80" fill="#3c3c3c"/>
<polygon points="475.79,643.66 479.43,647.30 475.79,650.94 472.15,647.30" fill="#3c3c3c"/>
<g stroke="#f08a24" stroke-width="1.0"><line x1="301.70" y1="702.30" x2="301.70" y2="707.30"/><line x1="299.50" y1="702.30" x2="303.90" y2="702.30"/><line x1="299.50" y1="707.30" x2="303.90" y2="707.30"/></g>
<g stroke="#f08a24" stroke-width="1.0"><line x1="305.41" y1="690.42" x2="305.41" y2="697.92"/><line x1="303.21" y1="690.42" x2="307.61" y2="690.42"/><line x1="303.21" y1="697.92" x2="307.61" y2="697.92"/></g>
<g stroke="#f08a24" stroke-width="1.0"><line x1="312.82" y1="679.80" x2="312.82" y2="684.80"/><line x1="310.62" y1="679.80" x2="315.02" y2="679.80"/><line x1="310.62" y1="684.80" x2="315.02" y2="684.80"/></g>
<g stroke="#f08a24" stroke-width="1.0"><line x1="327.63" y1="662.92" x2="327.63" y2="666.67"/><line x1="325.43" y1="662.92" x2="329.83" y2="662.92"/><line x1="325.43" y1="666.67" x2="329.83" y2="666.67"/></g>
<g stroke="#f08a24" stroke-width="1.0"><line x1="342.45" y1="643.55" x2="342.45" y2="648.55"/><line x1="340.25" y1="643.55" x2="344.65" y2="643.55"/><line x1="340.25" y1="648.55" x2="344.65" y2="648.55"/></g>
<g stroke="#f08a24" stroke-width="1.0"><line x1="386.90" y1="621.05" x2="386.90" y2="632.30"/><line x1="384.70" y1="621.05" x2="389.10" y2="621.05"/><line x1="384.70" y1="632.30" x2="389.10" y2="632.30"/></g>
<g stroke="#f08a24" stroke-width="1.0"><line x1="475.79" y1="594.80" x2="475.79" y2="604.80"/><line x1="473.59" y1="594.80" x2="477.99" y2="594.80"/><line x1="473.59" y1="604.80" x2="477.99" y2="604.80"/></g>
<polyline points="298.00,717.30 301.70,704.80 305.41,694.17 312.82,682.30 327.63,664.80 342.45,646.05 386.90,626.67 475.79,599.80" fill="none" stroke="#f08a24" stroke-width="2.0" stroke-linejoin="round"/>
<polygon points="294.78,717.30 300.38,714.22 300.38,720.38" fill="#f08a24"/>
<polygon points="298.48,704.80 304.08,701.72 304.08,707.88" fill="#f08a24"/>
<polygon points="302.19,694.17 307.79,691.09 307.79,697.25" fill="#f08a24"/>
<polygon points="309.60,682.30 315.20,679.22 315.20,685.38" fill="#f08a24"/>
<polygon points="324.41,664.80 330.01,661.72 330.01,667.88" fill="#f08a24"/>
<polygon points="339.23,646.05 344.83,642.97 344.83,649.13" fill="#f08a24"/>
<polygon points="383.68,626.67 389.28,623.59 389.28,629.75" fill="#f08a24"/>
<polygon points="472.57,599.80 478.17,596.72 478.17,602.88" fill="#f08a24"/>
<text x="467.80" y="604.40" font-size="12.5" font-weight="bold" fill="#555555" text-anchor="middle">***</text>
<text x="467.50" y="650.80" font-size="12.5" font-weight="bold" fill="#555555" text-anchor="middle">***</text>
<text x="467.50" y="683.40" font-size="12.5" font-weight="bold" fill="#555555" text-anchor="middle">***</text>
<text x="467.50" y="698.60" font-size="12.5" font-weight="bold" fill="#555555" text-anchor="middle">***</text>
<line x1="298.6" y1="575.2" x2="323.0" y2="575.2" stroke="#f23a3a" stroke-width="1.8"/>
<rect x="308.40" y="572.70" width="5" height="5" fill="#f23a3a"/>
<text x="325.70" y="578.80" font-size="10" font-weight="bold" fill="#111" text-anchor="start" >pH 7.4</text>
<line x1="358.70000000000005" y1="575.2" x2="383.1" y2="575.2" stroke="#9b14d0" stroke-width="1.8"/>
<circle cx="371.00" cy="575.20" r="2.62" fill="#9b14d0"/>
<text x="385.80" y="578.80" font-size="10" font-weight="bold" fill="#111" text-anchor="start" >pH 7.0</text>
<line x1="298.6" y1="587.95" x2="323.0" y2="587.95" stroke="#2a4cf0" stroke-width="1.8"/>
<polygon points="310.90,585.08 308.15,590.08 313.65,590.08" fill="#2a4cf0"/>
<text x="325.70" y="591.55" font-size="10" font-weight="bold" fill="#111" text-anchor="start" >pH 6.8</text>
<line x1="358.70000000000005" y1="587.95" x2="383.1" y2="587.95" stroke="#22c9cc" stroke-width="1.8"/>
<polygon points="371.00,590.83 368.25,585.83 373.75,585.83" fill="#22c9cc"/>
<text x="385.80" y="591.55" font-size="10" font-weight="bold" fill="#111" text-anchor="start" >pH 6.0</text>
<line x1="298.6" y1="600.7" x2="323.0" y2="600.7" stroke="#3c3c3c" stroke-width="1.8"/>
<polygon points="310.90,597.45 314.15,600.70 310.90,603.95 307.65,600.70" fill="#3c3c3c"/>
<text x="325.70" y="604.30" font-size="10" font-weight="bold" fill="#111" text-anchor="start" >pH 5.0</text>
<line x1="358.70000000000005" y1="600.7" x2="383.1" y2="600.7" stroke="#f08a24" stroke-width="1.8"/>
<polygon points="368.13,600.70 373.13,597.95 373.13,603.45" fill="#f08a24"/>
<text x="385.80" y="604.30" font-size="10" font-weight="bold" fill="#111" text-anchor="start" >pH 1.0</text>
<g stroke="#8f8f8f" stroke-width="1.1" fill="none"><polyline points="533.8,565.6 533.8,721.8 726,721.8"/></g>
<g stroke="#8f8f8f" stroke-width="0.9">
<line x1="530.8" y1="711.60" x2="533.8" y2="711.60"/>
<line x1="532.0" y1="697.05" x2="533.8" y2="697.05"/>
<line x1="530.8" y1="682.50" x2="533.8" y2="682.50"/>
<line x1="532.0" y1="667.95" x2="533.8" y2="667.95"/>
<line x1="530.8" y1="653.40" x2="533.8" y2="653.40"/>
<line x1="532.0" y1="638.85" x2="533.8" y2="638.85"/>
<line x1="530.8" y1="624.30" x2="533.8" y2="624.30"/>
<line x1="532.0" y1="609.75" x2="533.8" y2="609.75"/>
<line x1="530.8" y1="595.20" x2="533.8" y2="595.20"/>
<line x1="532.0" y1="580.65" x2="533.8" y2="580.65"/>
<line x1="530.8" y1="566.10" x2="533.8" y2="566.10"/>
<line x1="543.50" y1="721.8" x2="543.50" y2="724.3"/>
<line x1="568.00" y1="721.8" x2="568.00" y2="724.3"/>
<line x1="592.50" y1="721.8" x2="592.50" y2="724.3"/>
<line x1="617.00" y1="721.8" x2="617.00" y2="724.3"/>
<line x1="641.50" y1="721.8" x2="641.50" y2="724.3"/>
<line x1="666.00" y1="721.8" x2="666.00" y2="724.3"/>
<line x1="690.50" y1="721.8" x2="690.50" y2="724.3"/>
<line x1="715.00" y1="721.8" x2="715.00" y2="724.3"/>
</g>
<text x="528.30" y="715.00" font-size="10" font-weight="bold" fill="#111" text-anchor="end" >0</text>
<text x="528.30" y="685.90" font-size="10" font-weight="bold" fill="#111" text-anchor="end" >20</text>
<text x="528.30" y="656.80" font-size="10" font-weight="bold" fill="#111" text-anchor="end" >40</text>
<text x="528.30" y="627.70" font-size="10" font-weight="bold" fill="#111" text-anchor="end" >60</text>
<text x="528.30" y="598.60" font-size="10" font-weight="bold" fill="#111" text-anchor="end" >80</text>
<text x="528.30" y="569.50" font-size="10" font-weight="bold" fill="#111" text-anchor="end" >100</text>
<text x="543.50" y="735.60" font-size="10" font-weight="bold" fill="#111" text-anchor="middle" >0</text>
<text x="568.00" y="735.60" font-size="10" font-weight="bold" fill="#111" text-anchor="middle" >2</text>
<text x="592.50" y="735.60" font-size="10" font-weight="bold" fill="#111" text-anchor="middle" >2.7</text>
<text x="617.00" y="735.60" font-size="10" font-weight="bold" fill="#111" text-anchor="middle" >4.2</text>
<text x="641.50" y="735.60" font-size="10" font-weight="bold" fill="#111" text-anchor="middle" >10.2</text>
<text x="666.00" y="735.60" font-size="10" font-weight="bold" fill="#111" text-anchor="middle" >58.2</text>
<text x="690.50" y="735.60" font-size="10" font-weight="bold" fill="#111" text-anchor="middle" >82.2</text>
<text x="715.00" y="735.60" font-size="10" font-weight="bold" fill="#111" text-anchor="middle" >106.2</text>
<text x="630.40" y="754.00" font-size="14" font-weight="bold" fill="#111" text-anchor="middle"  textLength="52.8" lengthAdjust="spacingAndGlyphs">Time(h)</text>
<text transform="translate(505.1,642.5) rotate(-90)" font-size="14.8" font-weight="bold" fill="#111" text-anchor="middle">Cumulative Release (%)</text>
<text x="500.00" y="559.60" font-size="20.5" font-weight="bold" fill="#000" text-anchor="start" >G</text>
<line x1="568.00" y1="693.27" x2="568.00" y2="721.80" stroke="#3c3c3c" stroke-width="1.3" stroke-dasharray="2.2,1.4"/>
<line x1="592.50" y1="683.08" x2="592.50" y2="721.80" stroke="#22c9d2" stroke-width="1.3" stroke-dasharray="2.2,1.4"/>
<line x1="617.00" y1="658.93" x2="617.00" y2="721.80" stroke="#9a1fd8" stroke-width="1.3" stroke-dasharray="2.2,1.4"/>
<line x1="641.50" y1="649.91" x2="641.50" y2="721.80" stroke="#f0383c" stroke-width="1.3" stroke-dasharray="2.2,1.4"/>
<line x1="666.00" y1="643.51" x2="666.00" y2="721.80" stroke="#2a4cf0" stroke-width="1.3" stroke-dasharray="2.2,1.4"/>
<line x1="690.50" y1="620.66" x2="690.50" y2="721.80" stroke="#3c3c3c" stroke-width="1.3" stroke-dasharray="2.2,1.4"/>
<line x1="715.00" y1="579.49" x2="715.00" y2="721.80" stroke="#2a8a2a" stroke-width="1.3" stroke-dasharray="2.2,1.4"/>
<line x1="543.50" y1="711.60" x2="568.00" y2="693.27" stroke="#f08a24" stroke-width="2.1"/>
<line x1="568.00" y1="693.27" x2="592.50" y2="683.08" stroke="#3c3c3c" stroke-width="2.1"/>
<line x1="592.50" y1="683.08" x2="617.00" y2="658.93" stroke="#22c9d2" stroke-width="2.1"/>
<line x1="617.00" y1="658.93" x2="641.50" y2="649.91" stroke="#9a1fd8" stroke-width="2.1"/>
<line x1="641.50" y1="649.91" x2="666.00" y2="643.51" stroke="#f0383c" stroke-width="2.1"/>
<line x1="666.00" y1="643.51" x2="690.50" y2="620.66" stroke="#2a4cf0" stroke-width="2.1"/>
<line x1="690.50" y1="620.66" x2="715.00" y2="579.49" stroke="#3c3c3c" stroke-width="2.1"/>
<g stroke="#3c3c3c" stroke-width="1.0"><line x1="568.00" y1="690.36" x2="568.00" y2="696.18"/><line x1="565.80" y1="690.36" x2="570.20" y2="690.36"/><line x1="565.80" y1="696.18" x2="570.20" y2="696.18"/></g>
<g stroke="#22c9d2" stroke-width="1.0"><line x1="592.50" y1="679.88" x2="592.50" y2="686.28"/><line x1="590.30" y1="679.88" x2="594.70" y2="679.88"/><line x1="590.30" y1="686.28" x2="594.70" y2="686.28"/></g>
<g stroke="#9a1fd8" stroke-width="1.0"><line x1="617.00" y1="655.73" x2="617.00" y2="662.13"/><line x1="614.80" y1="655.73" x2="619.20" y2="655.73"/><line x1="614.80" y1="662.13" x2="619.20" y2="662.13"/></g>
<g stroke="#f0383c" stroke-width="1.0"><line x1="641.50" y1="647.58" x2="641.50" y2="652.24"/><line x1="639.30" y1="647.58" x2="643.70" y2="647.58"/><line x1="639.30" y1="652.24" x2="643.70" y2="652.24"/></g>
<g stroke="#2a4cf0" stroke-width="1.0"><line x1="666.00" y1="641.32" x2="666.00" y2="645.69"/><line x1="663.80" y1="641.32" x2="668.20" y2="641.32"/><line x1="663.80" y1="645.69" x2="668.20" y2="645.69"/></g>
<g stroke="#3c3c3c" stroke-width="1.0"><line x1="690.50" y1="618.04" x2="690.50" y2="623.28"/><line x1="688.30" y1="618.04" x2="692.70" y2="618.04"/><line x1="688.30" y1="623.28" x2="692.70" y2="623.28"/></g>
<g stroke="#2a8a2a" stroke-width="1.0"><line x1="715.00" y1="577.30" x2="715.00" y2="581.67"/><line x1="712.80" y1="577.30" x2="717.20" y2="577.30"/><line x1="712.80" y1="581.67" x2="717.20" y2="581.67"/></g>
<rect x="541.50" y="709.60" width="4.0" height="4.0" fill="#f08a24"/>
<rect x="566.00" y="691.27" width="4.0" height="4.0" fill="#3c3c3c"/>
<rect x="590.50" y="681.08" width="4.0" height="4.0" fill="#22c9d2"/>
<rect x="615.00" y="656.93" width="4.0" height="4.0" fill="#9a1fd8"/>
<rect x="639.50" y="647.91" width="4.0" height="4.0" fill="#f0383c"/>
<rect x="664.00" y="641.51" width="4.0" height="4.0" fill="#2a4cf0"/>
<rect x="688.50" y="618.66" width="4.0" height="4.0" fill="#3c3c3c"/>
<rect x="713.00" y="577.49" width="4.0" height="4.0" fill="#2a8a2a"/>
<text x="543.70" y="719.9" font-size="7.6" font-weight="bold" fill="#f08a24">pH 1.0</text>
<text x="568.20" y="719.9" font-size="7.6" font-weight="bold" fill="#f08a24">pH 5.0</text>
<text x="592.70" y="719.9" font-size="7.6" font-weight="bold" fill="#22c9d2">pH 6.0</text>
<text x="617.20" y="719.9" font-size="7.6" font-weight="bold" fill="#9a1fd8">pH7.0</text>
<text x="641.70" y="719.9" font-size="7.6" font-weight="bold" fill="#f0383c">pH 7.4</text>
<text x="666.20" y="719.9" font-size="7.6" font-weight="bold" fill="#2a4cf0">pH 4.8</text>
<text x="690.70" y="719.9" font-size="7.6" font-weight="normal" fill="#3c3c3c">pH 5.0</text>
</svg></body></html>
